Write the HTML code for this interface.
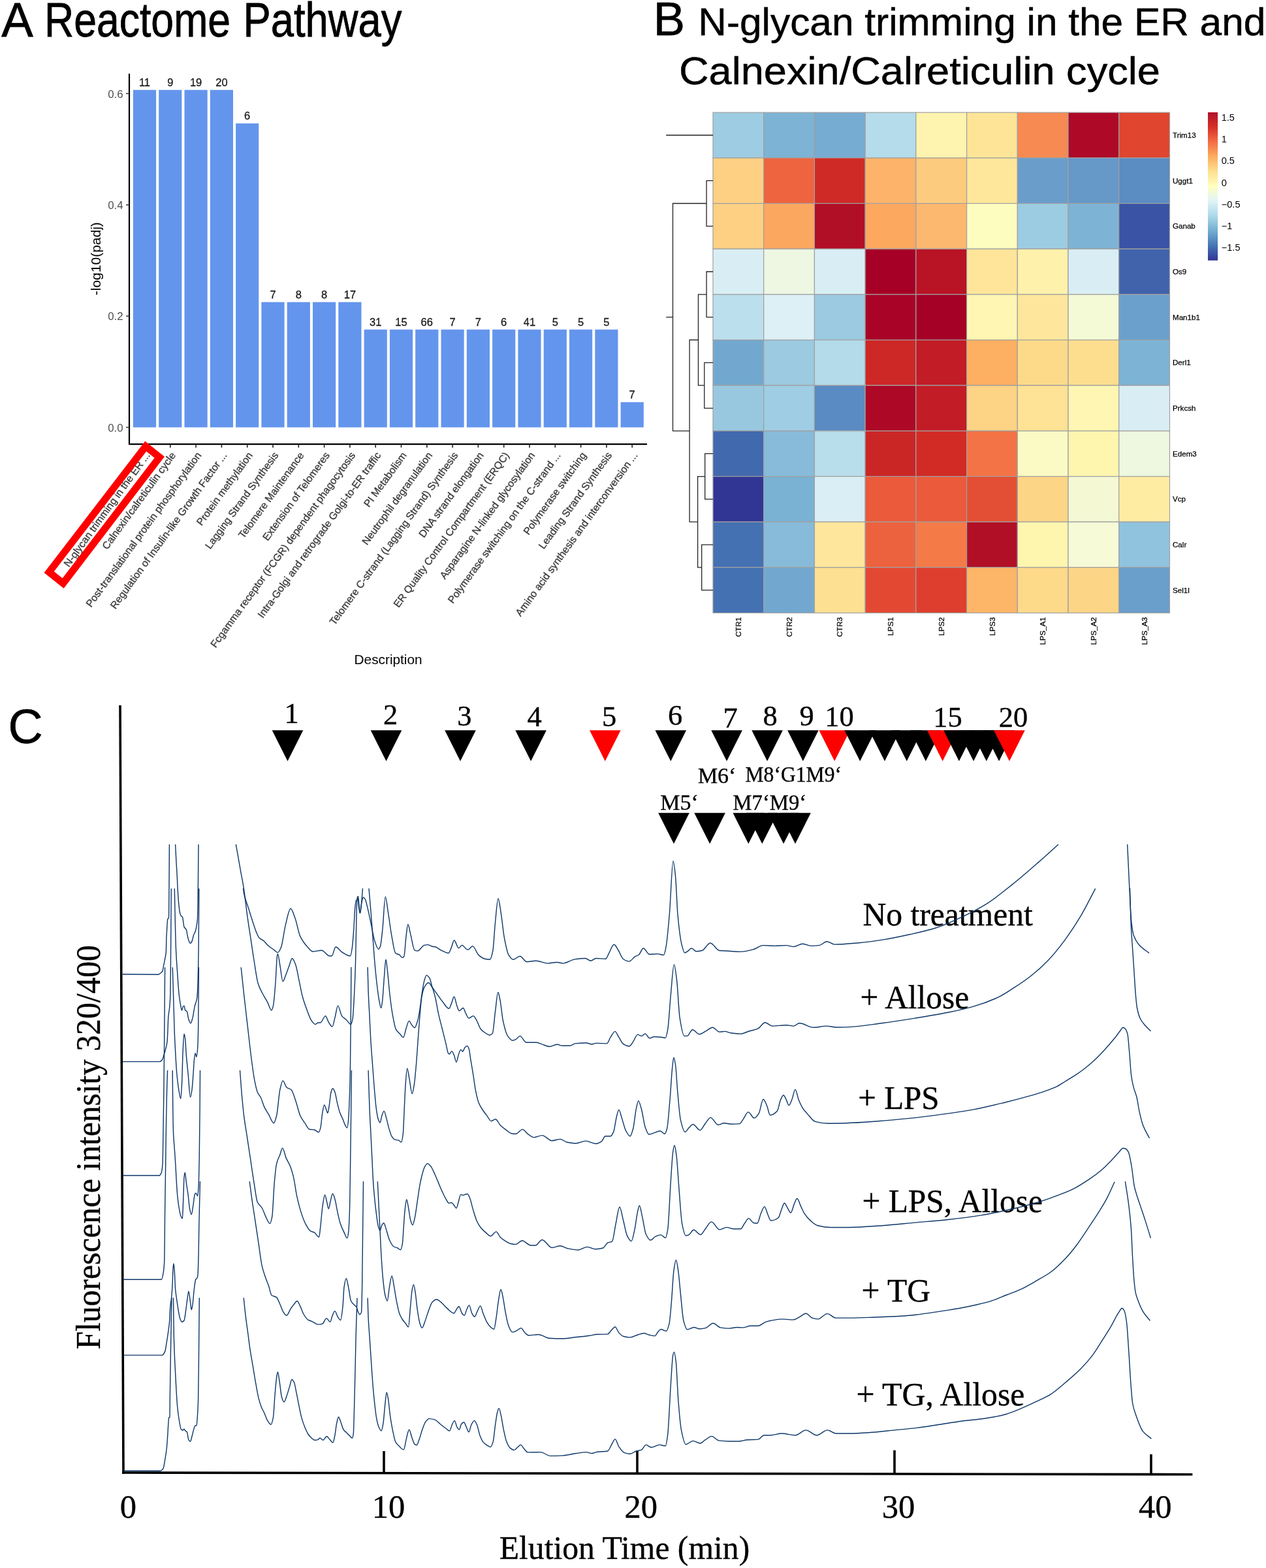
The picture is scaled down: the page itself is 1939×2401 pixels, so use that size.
<!DOCTYPE html>
<html><head><meta charset="utf-8"><title>Figure</title>
<style>
html,body{margin:0;padding:0;background:#fff;}
body{width:1939px;height:2401px;overflow:hidden;}
svg{display:block;}
.s{font-family:"Liberation Sans", Arial, Helvetica, sans-serif;}
.t{font-family:"Liberation Serif", "Times New Roman", serif;}
</style></head><body>
<svg width="1939" height="2401" viewBox="0 0 1939 2401">
<rect x="0" y="0" width="1939" height="2401" fill="#fff"/>

<g class="s">
<g stroke="#000" stroke-width="0.8" font-size="75"><text x="2.2" y="56" textLength="48.5" lengthAdjust="spacingAndGlyphs">A</text> <text x="68" y="56" textLength="285" lengthAdjust="spacingAndGlyphs">Reactome</text> <text x="372.5" y="56" textLength="243" lengthAdjust="spacingAndGlyphs">Pathway</text></g>
<rect x="203.9" y="137.7" width="35.2" height="516.7" fill="#6495ED"/>
<text x="221.5" y="132.1" font-size="16.5" text-anchor="middle" fill="#1a1a1a" stroke="#1a1a1a" stroke-width="0.3">11</text>
<rect x="243.2" y="137.7" width="35.2" height="516.7" fill="#6495ED"/>
<text x="260.8" y="132.1" font-size="16.5" text-anchor="middle" fill="#1a1a1a" stroke="#1a1a1a" stroke-width="0.3">9</text>
<rect x="282.5" y="137.7" width="35.2" height="516.7" fill="#6495ED"/>
<text x="300.1" y="132.1" font-size="16.5" text-anchor="middle" fill="#1a1a1a" stroke="#1a1a1a" stroke-width="0.3">19</text>
<rect x="321.8" y="137.7" width="35.2" height="516.7" fill="#6495ED"/>
<text x="339.4" y="132.1" font-size="16.5" text-anchor="middle" fill="#1a1a1a" stroke="#1a1a1a" stroke-width="0.3">20</text>
<rect x="361.1" y="189.0" width="35.2" height="465.4" fill="#6495ED"/>
<text x="378.7" y="183.4" font-size="16.5" text-anchor="middle" fill="#1a1a1a" stroke="#1a1a1a" stroke-width="0.3">6</text>
<rect x="400.4" y="462.6" width="35.2" height="191.8" fill="#6495ED"/>
<text x="418.0" y="457.0" font-size="16.5" text-anchor="middle" fill="#1a1a1a" stroke="#1a1a1a" stroke-width="0.3">7</text>
<rect x="439.7" y="462.6" width="35.2" height="191.8" fill="#6495ED"/>
<text x="457.3" y="457.0" font-size="16.5" text-anchor="middle" fill="#1a1a1a" stroke="#1a1a1a" stroke-width="0.3">8</text>
<rect x="479.0" y="462.6" width="35.2" height="191.8" fill="#6495ED"/>
<text x="496.6" y="457.0" font-size="16.5" text-anchor="middle" fill="#1a1a1a" stroke="#1a1a1a" stroke-width="0.3">8</text>
<rect x="518.3" y="462.6" width="35.2" height="191.8" fill="#6495ED"/>
<text x="535.9" y="457.0" font-size="16.5" text-anchor="middle" fill="#1a1a1a" stroke="#1a1a1a" stroke-width="0.3">17</text>
<rect x="557.6" y="504.6" width="35.2" height="149.8" fill="#6495ED"/>
<text x="575.2" y="499.0" font-size="16.5" text-anchor="middle" fill="#1a1a1a" stroke="#1a1a1a" stroke-width="0.3">31</text>
<rect x="596.9" y="504.6" width="35.2" height="149.8" fill="#6495ED"/>
<text x="614.5" y="499.0" font-size="16.5" text-anchor="middle" fill="#1a1a1a" stroke="#1a1a1a" stroke-width="0.3">15</text>
<rect x="636.2" y="504.6" width="35.2" height="149.8" fill="#6495ED"/>
<text x="653.8" y="499.0" font-size="16.5" text-anchor="middle" fill="#1a1a1a" stroke="#1a1a1a" stroke-width="0.3">66</text>
<rect x="675.5" y="504.6" width="35.2" height="149.8" fill="#6495ED"/>
<text x="693.1" y="499.0" font-size="16.5" text-anchor="middle" fill="#1a1a1a" stroke="#1a1a1a" stroke-width="0.3">7</text>
<rect x="714.8" y="504.6" width="35.2" height="149.8" fill="#6495ED"/>
<text x="732.4" y="499.0" font-size="16.5" text-anchor="middle" fill="#1a1a1a" stroke="#1a1a1a" stroke-width="0.3">7</text>
<rect x="754.1" y="504.6" width="35.2" height="149.8" fill="#6495ED"/>
<text x="771.7" y="499.0" font-size="16.5" text-anchor="middle" fill="#1a1a1a" stroke="#1a1a1a" stroke-width="0.3">6</text>
<rect x="793.4" y="504.6" width="35.2" height="149.8" fill="#6495ED"/>
<text x="811.0" y="499.0" font-size="16.5" text-anchor="middle" fill="#1a1a1a" stroke="#1a1a1a" stroke-width="0.3">41</text>
<rect x="832.7" y="504.6" width="35.2" height="149.8" fill="#6495ED"/>
<text x="850.3" y="499.0" font-size="16.5" text-anchor="middle" fill="#1a1a1a" stroke="#1a1a1a" stroke-width="0.3">5</text>
<rect x="872.0" y="504.6" width="35.2" height="149.8" fill="#6495ED"/>
<text x="889.6" y="499.0" font-size="16.5" text-anchor="middle" fill="#1a1a1a" stroke="#1a1a1a" stroke-width="0.3">5</text>
<rect x="911.3" y="504.6" width="35.2" height="149.8" fill="#6495ED"/>
<text x="928.9" y="499.0" font-size="16.5" text-anchor="middle" fill="#1a1a1a" stroke="#1a1a1a" stroke-width="0.3">5</text>
<rect x="950.6" y="615.8" width="35.2" height="38.6" fill="#6495ED"/>
<text x="968.2" y="610.2" font-size="16.5" text-anchor="middle" fill="#1a1a1a" stroke="#1a1a1a" stroke-width="0.3">7</text>
<path d="M198 112.7 V680.2 H991" fill="none" stroke="#000" stroke-width="2.2"/>
<line x1="193" y1="654.4" x2="198" y2="654.4" stroke="#333" stroke-width="1.5"/>
<text x="188.6" y="660.8" font-size="16.8" text-anchor="end" fill="#4D4D4D">0.0</text>
<line x1="193" y1="484.0" x2="198" y2="484.0" stroke="#333" stroke-width="1.5"/>
<text x="188.6" y="490.4" font-size="16.8" text-anchor="end" fill="#4D4D4D">0.2</text>
<line x1="193" y1="313.8" x2="198" y2="313.8" stroke="#333" stroke-width="1.5"/>
<text x="188.6" y="320.2" font-size="16.8" text-anchor="end" fill="#4D4D4D">0.4</text>
<line x1="193" y1="143.3" x2="198" y2="143.3" stroke="#333" stroke-width="1.5"/>
<text x="188.6" y="149.7" font-size="16.8" text-anchor="end" fill="#4D4D4D">0.6</text>
<line x1="221.5" y1="680" x2="221.5" y2="685.4" stroke="#222" stroke-width="1.6"/>
<text transform="translate(230.5,697.2) rotate(-54)" font-size="15.7" text-anchor="end" fill="#3d3d3d" stroke="#3d3d3d" stroke-width="0.35">N-glycan trimming in the ER ...</text>
<line x1="260.8" y1="680" x2="260.8" y2="685.4" stroke="#222" stroke-width="1.6"/>
<text transform="translate(269.8,697.2) rotate(-54)" font-size="15.7" text-anchor="end" fill="#3d3d3d" stroke="#3d3d3d" stroke-width="0.35">Calnexin/calreticulin cycle</text>
<line x1="300.1" y1="680" x2="300.1" y2="685.4" stroke="#222" stroke-width="1.6"/>
<text transform="translate(309.1,697.2) rotate(-54)" font-size="15.7" text-anchor="end" fill="#3d3d3d" stroke="#3d3d3d" stroke-width="0.35">Post-translational protein phosphorylation</text>
<line x1="339.4" y1="680" x2="339.4" y2="685.4" stroke="#222" stroke-width="1.6"/>
<text transform="translate(348.4,697.2) rotate(-54)" font-size="15.7" text-anchor="end" fill="#3d3d3d" stroke="#3d3d3d" stroke-width="0.35">Regulation of Insulin-like Growth Factor ...</text>
<line x1="378.7" y1="680" x2="378.7" y2="685.4" stroke="#222" stroke-width="1.6"/>
<text transform="translate(387.7,697.2) rotate(-54)" font-size="15.7" text-anchor="end" fill="#3d3d3d" stroke="#3d3d3d" stroke-width="0.35">Protein methylation</text>
<line x1="418.0" y1="680" x2="418.0" y2="685.4" stroke="#222" stroke-width="1.6"/>
<text transform="translate(427.0,697.2) rotate(-54)" font-size="15.7" text-anchor="end" fill="#3d3d3d" stroke="#3d3d3d" stroke-width="0.35">Lagging Strand Synthesis</text>
<line x1="457.3" y1="680" x2="457.3" y2="685.4" stroke="#222" stroke-width="1.6"/>
<text transform="translate(466.3,697.2) rotate(-54)" font-size="15.7" text-anchor="end" fill="#3d3d3d" stroke="#3d3d3d" stroke-width="0.35">Telomere Maintenance</text>
<line x1="496.6" y1="680" x2="496.6" y2="685.4" stroke="#222" stroke-width="1.6"/>
<text transform="translate(505.6,697.2) rotate(-54)" font-size="15.7" text-anchor="end" fill="#3d3d3d" stroke="#3d3d3d" stroke-width="0.35">Extension of Telomeres</text>
<line x1="535.9" y1="680" x2="535.9" y2="685.4" stroke="#222" stroke-width="1.6"/>
<text transform="translate(544.9,697.2) rotate(-54)" font-size="15.7" text-anchor="end" fill="#3d3d3d" stroke="#3d3d3d" stroke-width="0.35">Fcgamma receptor (FCGR) dependent phagocytosis</text>
<line x1="575.2" y1="680" x2="575.2" y2="685.4" stroke="#222" stroke-width="1.6"/>
<text transform="translate(584.2,697.2) rotate(-54)" font-size="15.7" text-anchor="end" fill="#3d3d3d" stroke="#3d3d3d" stroke-width="0.35">Intra-Golgi and retrograde Golgi-to-ER traffic</text>
<line x1="614.5" y1="680" x2="614.5" y2="685.4" stroke="#222" stroke-width="1.6"/>
<text transform="translate(623.5,697.2) rotate(-54)" font-size="15.7" text-anchor="end" fill="#3d3d3d" stroke="#3d3d3d" stroke-width="0.35">PI Metabolism</text>
<line x1="653.8" y1="680" x2="653.8" y2="685.4" stroke="#222" stroke-width="1.6"/>
<text transform="translate(662.8,697.2) rotate(-54)" font-size="15.7" text-anchor="end" fill="#3d3d3d" stroke="#3d3d3d" stroke-width="0.35">Neutrophil degranulation</text>
<line x1="693.1" y1="680" x2="693.1" y2="685.4" stroke="#222" stroke-width="1.6"/>
<text transform="translate(702.1,697.2) rotate(-54)" font-size="15.7" text-anchor="end" fill="#3d3d3d" stroke="#3d3d3d" stroke-width="0.35">Telomere C-strand (Lagging Strand) Synthesis</text>
<line x1="732.4" y1="680" x2="732.4" y2="685.4" stroke="#222" stroke-width="1.6"/>
<text transform="translate(741.4,697.2) rotate(-54)" font-size="15.7" text-anchor="end" fill="#3d3d3d" stroke="#3d3d3d" stroke-width="0.35">DNA strand elongation</text>
<line x1="771.7" y1="680" x2="771.7" y2="685.4" stroke="#222" stroke-width="1.6"/>
<text transform="translate(780.7,697.2) rotate(-54)" font-size="15.7" text-anchor="end" fill="#3d3d3d" stroke="#3d3d3d" stroke-width="0.35">ER Quality Control Compartment (ERQC)</text>
<line x1="811.0" y1="680" x2="811.0" y2="685.4" stroke="#222" stroke-width="1.6"/>
<text transform="translate(820.0,697.2) rotate(-54)" font-size="15.7" text-anchor="end" fill="#3d3d3d" stroke="#3d3d3d" stroke-width="0.35">Asparagine N-linked glycosylation</text>
<line x1="850.3" y1="680" x2="850.3" y2="685.4" stroke="#222" stroke-width="1.6"/>
<text transform="translate(859.3,697.2) rotate(-54)" font-size="15.7" text-anchor="end" fill="#3d3d3d" stroke="#3d3d3d" stroke-width="0.35">Polymerase switching on the C-strand ...</text>
<line x1="889.6" y1="680" x2="889.6" y2="685.4" stroke="#222" stroke-width="1.6"/>
<text transform="translate(898.6,697.2) rotate(-54)" font-size="15.7" text-anchor="end" fill="#3d3d3d" stroke="#3d3d3d" stroke-width="0.35">Polymerase switching</text>
<line x1="928.9" y1="680" x2="928.9" y2="685.4" stroke="#222" stroke-width="1.6"/>
<text transform="translate(937.9,697.2) rotate(-54)" font-size="15.7" text-anchor="end" fill="#3d3d3d" stroke="#3d3d3d" stroke-width="0.35">Leading Strand Synthesis</text>
<line x1="968.2" y1="680" x2="968.2" y2="685.4" stroke="#222" stroke-width="1.6"/>
<text transform="translate(977.2,697.2) rotate(-54)" font-size="15.7" text-anchor="end" fill="#3d3d3d" stroke="#3d3d3d" stroke-width="0.35">Amino acid synthesis and interconversion ...</text>
<text transform="translate(154.2,396.2) rotate(-90)" font-size="21" text-anchor="middle" fill="#000">-log10(padj)</text>
<text x="542.6" y="1017.3" font-size="20.8" fill="#000">Description</text>
<polygon points="223.2,683.4 244.3,700.1 96.7,893.2 75.2,876" fill="none" stroke="#FF0000" stroke-width="11" stroke-linejoin="miter"/>
</g>
<g class="s">
<text x="1000.8" y="54" font-size="72.5" stroke="#000" stroke-width="0.6">B</text>
<text x="1069.3" y="53.8" font-size="60" textLength="869" lengthAdjust="spacingAndGlyphs" stroke="#000" stroke-width="0.5">N-glycan trimming in the ER and</text>
<text x="1040" y="128.5" font-size="60" textLength="737" lengthAdjust="spacingAndGlyphs" stroke="#000" stroke-width="0.5">Calnexin/Calreticulin cycle</text>
<rect x="1092.00" y="172.20" width="77.72" height="69.67" fill="#9DCCE3" stroke="#A0A0A0" stroke-width="1.2"/>
<rect x="1169.72" y="172.20" width="77.72" height="69.67" fill="#7DB3D5" stroke="#A0A0A0" stroke-width="1.2"/>
<rect x="1247.44" y="172.20" width="77.72" height="69.67" fill="#76ACD1" stroke="#A0A0A0" stroke-width="1.2"/>
<rect x="1325.16" y="172.20" width="77.72" height="69.67" fill="#B4DCEA" stroke="#A0A0A0" stroke-width="1.2"/>
<rect x="1402.88" y="172.20" width="77.72" height="69.67" fill="#FEF3AF" stroke="#A0A0A0" stroke-width="1.2"/>
<rect x="1480.60" y="172.20" width="77.72" height="69.67" fill="#FEE497" stroke="#A0A0A0" stroke-width="1.2"/>
<rect x="1558.32" y="172.20" width="77.72" height="69.67" fill="#F68A52" stroke="#A0A0A0" stroke-width="1.2"/>
<rect x="1636.04" y="172.20" width="77.72" height="69.67" fill="#AE0A28" stroke="#A0A0A0" stroke-width="1.2"/>
<rect x="1713.76" y="172.20" width="77.72" height="69.67" fill="#E04530" stroke="#A0A0A0" stroke-width="1.2"/>
<rect x="1092.00" y="241.87" width="77.72" height="69.67" fill="#FDD084" stroke="#A0A0A0" stroke-width="1.2"/>
<rect x="1169.72" y="241.87" width="77.72" height="69.67" fill="#EE643F" stroke="#A0A0A0" stroke-width="1.2"/>
<rect x="1247.44" y="241.87" width="77.72" height="69.67" fill="#CF2A26" stroke="#A0A0A0" stroke-width="1.2"/>
<rect x="1325.16" y="241.87" width="77.72" height="69.67" fill="#FDB46A" stroke="#A0A0A0" stroke-width="1.2"/>
<rect x="1402.88" y="241.87" width="77.72" height="69.67" fill="#FDCB7E" stroke="#A0A0A0" stroke-width="1.2"/>
<rect x="1480.60" y="241.87" width="77.72" height="69.67" fill="#FEE79B" stroke="#A0A0A0" stroke-width="1.2"/>
<rect x="1558.32" y="241.87" width="77.72" height="69.67" fill="#6A9DCA" stroke="#A0A0A0" stroke-width="1.2"/>
<rect x="1636.04" y="241.87" width="77.72" height="69.67" fill="#6698C8" stroke="#A0A0A0" stroke-width="1.2"/>
<rect x="1713.76" y="241.87" width="77.72" height="69.67" fill="#5B8CC2" stroke="#A0A0A0" stroke-width="1.2"/>
<rect x="1092.00" y="311.54" width="77.72" height="69.67" fill="#FDD084" stroke="#A0A0A0" stroke-width="1.2"/>
<rect x="1169.72" y="311.54" width="77.72" height="69.67" fill="#FCA75F" stroke="#A0A0A0" stroke-width="1.2"/>
<rect x="1247.44" y="311.54" width="77.72" height="69.67" fill="#B10F26" stroke="#A0A0A0" stroke-width="1.2"/>
<rect x="1325.16" y="311.54" width="77.72" height="69.67" fill="#FCA85F" stroke="#A0A0A0" stroke-width="1.2"/>
<rect x="1402.88" y="311.54" width="77.72" height="69.67" fill="#FDB870" stroke="#A0A0A0" stroke-width="1.2"/>
<rect x="1480.60" y="311.54" width="77.72" height="69.67" fill="#FEFDC0" stroke="#A0A0A0" stroke-width="1.2"/>
<rect x="1558.32" y="311.54" width="77.72" height="69.67" fill="#9CCCE2" stroke="#A0A0A0" stroke-width="1.2"/>
<rect x="1636.04" y="311.54" width="77.72" height="69.67" fill="#7DB3D5" stroke="#A0A0A0" stroke-width="1.2"/>
<rect x="1713.76" y="311.54" width="77.72" height="69.67" fill="#3B53A4" stroke="#A0A0A0" stroke-width="1.2"/>
<rect x="1092.00" y="381.21" width="77.72" height="69.67" fill="#D8EEF4" stroke="#A0A0A0" stroke-width="1.2"/>
<rect x="1169.72" y="381.21" width="77.72" height="69.67" fill="#EDF7E2" stroke="#A0A0A0" stroke-width="1.2"/>
<rect x="1247.44" y="381.21" width="77.72" height="69.67" fill="#D8EEF4" stroke="#A0A0A0" stroke-width="1.2"/>
<rect x="1325.16" y="381.21" width="77.72" height="69.67" fill="#A70026" stroke="#A0A0A0" stroke-width="1.2"/>
<rect x="1402.88" y="381.21" width="77.72" height="69.67" fill="#B81425" stroke="#A0A0A0" stroke-width="1.2"/>
<rect x="1480.60" y="381.21" width="77.72" height="69.67" fill="#FEE599" stroke="#A0A0A0" stroke-width="1.2"/>
<rect x="1558.32" y="381.21" width="77.72" height="69.67" fill="#FEF1AB" stroke="#A0A0A0" stroke-width="1.2"/>
<rect x="1636.04" y="381.21" width="77.72" height="69.67" fill="#D8EEF4" stroke="#A0A0A0" stroke-width="1.2"/>
<rect x="1713.76" y="381.21" width="77.72" height="69.67" fill="#4163AC" stroke="#A0A0A0" stroke-width="1.2"/>
<rect x="1092.00" y="450.88" width="77.72" height="69.67" fill="#BCDFED" stroke="#A0A0A0" stroke-width="1.2"/>
<rect x="1169.72" y="450.88" width="77.72" height="69.67" fill="#DDF0F6" stroke="#A0A0A0" stroke-width="1.2"/>
<rect x="1247.44" y="450.88" width="77.72" height="69.67" fill="#9BCAE1" stroke="#A0A0A0" stroke-width="1.2"/>
<rect x="1325.16" y="450.88" width="77.72" height="69.67" fill="#A90427" stroke="#A0A0A0" stroke-width="1.2"/>
<rect x="1402.88" y="450.88" width="77.72" height="69.67" fill="#A50026" stroke="#A0A0A0" stroke-width="1.2"/>
<rect x="1480.60" y="450.88" width="77.72" height="69.67" fill="#FEF6B2" stroke="#A0A0A0" stroke-width="1.2"/>
<rect x="1558.32" y="450.88" width="77.72" height="69.67" fill="#FEE79C" stroke="#A0A0A0" stroke-width="1.2"/>
<rect x="1636.04" y="450.88" width="77.72" height="69.67" fill="#F4F9D6" stroke="#A0A0A0" stroke-width="1.2"/>
<rect x="1713.76" y="450.88" width="77.72" height="69.67" fill="#6CA0CC" stroke="#A0A0A0" stroke-width="1.2"/>
<rect x="1092.00" y="520.55" width="77.72" height="69.67" fill="#72A8CF" stroke="#A0A0A0" stroke-width="1.2"/>
<rect x="1169.72" y="520.55" width="77.72" height="69.67" fill="#9BCAE1" stroke="#A0A0A0" stroke-width="1.2"/>
<rect x="1247.44" y="520.55" width="77.72" height="69.67" fill="#B3DBEA" stroke="#A0A0A0" stroke-width="1.2"/>
<rect x="1325.16" y="520.55" width="77.72" height="69.67" fill="#CD2726" stroke="#A0A0A0" stroke-width="1.2"/>
<rect x="1402.88" y="520.55" width="77.72" height="69.67" fill="#C21D26" stroke="#A0A0A0" stroke-width="1.2"/>
<rect x="1480.60" y="520.55" width="77.72" height="69.67" fill="#FDAF62" stroke="#A0A0A0" stroke-width="1.2"/>
<rect x="1558.32" y="520.55" width="77.72" height="69.67" fill="#FDDA8A" stroke="#A0A0A0" stroke-width="1.2"/>
<rect x="1636.04" y="520.55" width="77.72" height="69.67" fill="#FDDE8F" stroke="#A0A0A0" stroke-width="1.2"/>
<rect x="1713.76" y="520.55" width="77.72" height="69.67" fill="#7DB3D5" stroke="#A0A0A0" stroke-width="1.2"/>
<rect x="1092.00" y="590.22" width="77.72" height="69.67" fill="#98C8E0" stroke="#A0A0A0" stroke-width="1.2"/>
<rect x="1169.72" y="590.22" width="77.72" height="69.67" fill="#9FCDE3" stroke="#A0A0A0" stroke-width="1.2"/>
<rect x="1247.44" y="590.22" width="77.72" height="69.67" fill="#5A8BC2" stroke="#A0A0A0" stroke-width="1.2"/>
<rect x="1325.16" y="590.22" width="77.72" height="69.67" fill="#AD0826" stroke="#A0A0A0" stroke-width="1.2"/>
<rect x="1402.88" y="590.22" width="77.72" height="69.67" fill="#C21D26" stroke="#A0A0A0" stroke-width="1.2"/>
<rect x="1480.60" y="590.22" width="77.72" height="69.67" fill="#FDD386" stroke="#A0A0A0" stroke-width="1.2"/>
<rect x="1558.32" y="590.22" width="77.72" height="69.67" fill="#FEE295" stroke="#A0A0A0" stroke-width="1.2"/>
<rect x="1636.04" y="590.22" width="77.72" height="69.67" fill="#FEF6B2" stroke="#A0A0A0" stroke-width="1.2"/>
<rect x="1713.76" y="590.22" width="77.72" height="69.67" fill="#D9EEF4" stroke="#A0A0A0" stroke-width="1.2"/>
<rect x="1092.00" y="659.89" width="77.72" height="69.67" fill="#4169AE" stroke="#A0A0A0" stroke-width="1.2"/>
<rect x="1169.72" y="659.89" width="77.72" height="69.67" fill="#88BBD9" stroke="#A0A0A0" stroke-width="1.2"/>
<rect x="1247.44" y="659.89" width="77.72" height="69.67" fill="#B8DEEB" stroke="#A0A0A0" stroke-width="1.2"/>
<rect x="1325.16" y="659.89" width="77.72" height="69.67" fill="#CB2626" stroke="#A0A0A0" stroke-width="1.2"/>
<rect x="1402.88" y="659.89" width="77.72" height="69.67" fill="#D22B26" stroke="#A0A0A0" stroke-width="1.2"/>
<rect x="1480.60" y="659.89" width="77.72" height="69.67" fill="#F47346" stroke="#A0A0A0" stroke-width="1.2"/>
<rect x="1558.32" y="659.89" width="77.72" height="69.67" fill="#FBFAC4" stroke="#A0A0A0" stroke-width="1.2"/>
<rect x="1636.04" y="659.89" width="77.72" height="69.67" fill="#FEF5AF" stroke="#A0A0A0" stroke-width="1.2"/>
<rect x="1713.76" y="659.89" width="77.72" height="69.67" fill="#EEF7DF" stroke="#A0A0A0" stroke-width="1.2"/>
<rect x="1092.00" y="729.56" width="77.72" height="69.67" fill="#313695" stroke="#A0A0A0" stroke-width="1.2"/>
<rect x="1169.72" y="729.56" width="77.72" height="69.67" fill="#7AB2D4" stroke="#A0A0A0" stroke-width="1.2"/>
<rect x="1247.44" y="729.56" width="77.72" height="69.67" fill="#DAEFF5" stroke="#A0A0A0" stroke-width="1.2"/>
<rect x="1325.16" y="729.56" width="77.72" height="69.67" fill="#EA5A3B" stroke="#A0A0A0" stroke-width="1.2"/>
<rect x="1402.88" y="729.56" width="77.72" height="69.67" fill="#EA5A3B" stroke="#A0A0A0" stroke-width="1.2"/>
<rect x="1480.60" y="729.56" width="77.72" height="69.67" fill="#E34F35" stroke="#A0A0A0" stroke-width="1.2"/>
<rect x="1558.32" y="729.56" width="77.72" height="69.67" fill="#FDD587" stroke="#A0A0A0" stroke-width="1.2"/>
<rect x="1636.04" y="729.56" width="77.72" height="69.67" fill="#F4F9D4" stroke="#A0A0A0" stroke-width="1.2"/>
<rect x="1713.76" y="729.56" width="77.72" height="69.67" fill="#FEECA3" stroke="#A0A0A0" stroke-width="1.2"/>
<rect x="1092.00" y="799.23" width="77.72" height="69.67" fill="#4471B2" stroke="#A0A0A0" stroke-width="1.2"/>
<rect x="1169.72" y="799.23" width="77.72" height="69.67" fill="#88BBD9" stroke="#A0A0A0" stroke-width="1.2"/>
<rect x="1247.44" y="799.23" width="77.72" height="69.67" fill="#FEE79C" stroke="#A0A0A0" stroke-width="1.2"/>
<rect x="1325.16" y="799.23" width="77.72" height="69.67" fill="#ED623E" stroke="#A0A0A0" stroke-width="1.2"/>
<rect x="1402.88" y="799.23" width="77.72" height="69.67" fill="#F47A48" stroke="#A0A0A0" stroke-width="1.2"/>
<rect x="1480.60" y="799.23" width="77.72" height="69.67" fill="#B10F26" stroke="#A0A0A0" stroke-width="1.2"/>
<rect x="1558.32" y="799.23" width="77.72" height="69.67" fill="#FEF5AF" stroke="#A0A0A0" stroke-width="1.2"/>
<rect x="1636.04" y="799.23" width="77.72" height="69.67" fill="#F6FAD6" stroke="#A0A0A0" stroke-width="1.2"/>
<rect x="1713.76" y="799.23" width="77.72" height="69.67" fill="#90C3DE" stroke="#A0A0A0" stroke-width="1.2"/>
<rect x="1092.00" y="868.90" width="77.72" height="69.67" fill="#4471B2" stroke="#A0A0A0" stroke-width="1.2"/>
<rect x="1169.72" y="868.90" width="77.72" height="69.67" fill="#72A8CF" stroke="#A0A0A0" stroke-width="1.2"/>
<rect x="1247.44" y="868.90" width="77.72" height="69.67" fill="#FDE091" stroke="#A0A0A0" stroke-width="1.2"/>
<rect x="1325.16" y="868.90" width="77.72" height="69.67" fill="#E34932" stroke="#A0A0A0" stroke-width="1.2"/>
<rect x="1402.88" y="868.90" width="77.72" height="69.67" fill="#DE3E2E" stroke="#A0A0A0" stroke-width="1.2"/>
<rect x="1480.60" y="868.90" width="77.72" height="69.67" fill="#FDB567" stroke="#A0A0A0" stroke-width="1.2"/>
<rect x="1558.32" y="868.90" width="77.72" height="69.67" fill="#FDD98A" stroke="#A0A0A0" stroke-width="1.2"/>
<rect x="1636.04" y="868.90" width="77.72" height="69.67" fill="#FDD587" stroke="#A0A0A0" stroke-width="1.2"/>
<rect x="1713.76" y="868.90" width="77.72" height="69.67" fill="#6A9ECB" stroke="#A0A0A0" stroke-width="1.2"/>
<text x="1796" y="211.0" font-size="11.6" fill="#000" stroke="#000" stroke-width="0.25">Trim13</text>
<text x="1796" y="280.7" font-size="11.6" fill="#000" stroke="#000" stroke-width="0.25">Uggt1</text>
<text x="1796" y="350.4" font-size="11.6" fill="#000" stroke="#000" stroke-width="0.25">Ganab</text>
<text x="1796" y="420.0" font-size="11.6" fill="#000" stroke="#000" stroke-width="0.25">Os9</text>
<text x="1796" y="489.7" font-size="11.6" fill="#000" stroke="#000" stroke-width="0.25">Man1b1</text>
<text x="1796" y="559.4" font-size="11.6" fill="#000" stroke="#000" stroke-width="0.25">Derl1</text>
<text x="1796" y="629.1" font-size="11.6" fill="#000" stroke="#000" stroke-width="0.25">Prkcsh</text>
<text x="1796" y="698.7" font-size="11.6" fill="#000" stroke="#000" stroke-width="0.25">Edem3</text>
<text x="1796" y="768.4" font-size="11.6" fill="#000" stroke="#000" stroke-width="0.25">Vcp</text>
<text x="1796" y="838.1" font-size="11.6" fill="#000" stroke="#000" stroke-width="0.25">Calr</text>
<text x="1796" y="907.7" font-size="11.6" fill="#000" stroke="#000" stroke-width="0.25">Sel1l</text>
<text transform="translate(1134.9,945) rotate(-90)" font-size="11.6" text-anchor="end" fill="#000" stroke="#000" stroke-width="0.25">CTR1</text>
<text transform="translate(1212.6,945) rotate(-90)" font-size="11.6" text-anchor="end" fill="#000" stroke="#000" stroke-width="0.25">CTR2</text>
<text transform="translate(1290.3,945) rotate(-90)" font-size="11.6" text-anchor="end" fill="#000" stroke="#000" stroke-width="0.25">CTR3</text>
<text transform="translate(1368.0,945) rotate(-90)" font-size="11.6" text-anchor="end" fill="#000" stroke="#000" stroke-width="0.25">LPS1</text>
<text transform="translate(1445.7,945) rotate(-90)" font-size="11.6" text-anchor="end" fill="#000" stroke="#000" stroke-width="0.25">LPS2</text>
<text transform="translate(1523.5,945) rotate(-90)" font-size="11.6" text-anchor="end" fill="#000" stroke="#000" stroke-width="0.25">LPS3</text>
<text transform="translate(1601.2,945) rotate(-90)" font-size="11.6" text-anchor="end" fill="#000" stroke="#000" stroke-width="0.25">LPS_A1</text>
<text transform="translate(1678.9,945) rotate(-90)" font-size="11.6" text-anchor="end" fill="#000" stroke="#000" stroke-width="0.25">LPS_A2</text>
<text transform="translate(1756.6,945) rotate(-90)" font-size="11.6" text-anchor="end" fill="#000" stroke="#000" stroke-width="0.25">LPS_A3</text>
<path d="M1020.2 207.0L1092.0 207.0M1092.0 276.7H1082.1V346.4H1092.0M1092.0 416.0H1082.1V485.7H1092.0M1092.0 555.4H1078.8V625.1H1092.0M1082.1 450.9H1069.5V590.2H1078.8M1092.0 694.7H1079.7V764.4H1092.0M1092.0 834.1H1074.7V903.7H1092.0M1079.7 729.6H1068.6V868.9H1074.7M1069.5 520.5H1056.1V799.2H1068.6M1082.1 311.5H1030.5V659.9H1056.1M1020.2 485.7H1030.5" fill="none" stroke="#222" stroke-width="1.3"/>
<defs><linearGradient id="lg" x1="0" y1="1" x2="0" y2="0">
<stop offset="0" stop-color="#313695"/><stop offset="0.1" stop-color="#4575B4"/><stop offset="0.2" stop-color="#74ADD1"/>
<stop offset="0.3" stop-color="#ABD9E9"/><stop offset="0.4" stop-color="#E0F3F8"/><stop offset="0.5" stop-color="#FFFFBF"/>
<stop offset="0.6" stop-color="#FEE090"/><stop offset="0.7" stop-color="#FDAE61"/><stop offset="0.8" stop-color="#F46D43"/>
<stop offset="0.9" stop-color="#D73027"/><stop offset="1" stop-color="#B0122A"/></linearGradient></defs>
<rect x="1850" y="172" width="15.1" height="226.8" fill="url(#lg)"/>
<text x="1870.7" y="184.9" font-size="14.6" fill="#000">1.5</text>
<text x="1870.7" y="217.9" font-size="14.6" fill="#000">1</text>
<text x="1870.7" y="250.9" font-size="14.6" fill="#000">0.5</text>
<text x="1870.7" y="285.0" font-size="14.6" fill="#000">0</text>
<text x="1870.7" y="318.0" font-size="14.6" fill="#000">−0.5</text>
<text x="1870.7" y="351.0" font-size="14.6" fill="#000">−1</text>
<text x="1870.7" y="384.0" font-size="14.6" fill="#000">−1.5</text>
</g>
<g class="t" stroke="#000" stroke-width="0.35">
<text x="12.5" y="1138.3" font-size="73.5" class="s" font-family="Liberation Sans" stroke-width="0.7">C</text>
<path d="M184 1080 L189 2257" stroke="#000" stroke-width="3.6" fill="none"/>
<path d="M187 2255 L1826.4 2257.7" stroke="#000" stroke-width="3.6" fill="none"/>
<line x1="588" y1="2222" x2="588" y2="2257" stroke="#000" stroke-width="3.6"/>
<line x1="976" y1="2221.6" x2="976" y2="2257" stroke="#000" stroke-width="3.6"/>
<line x1="1370" y1="2220.7" x2="1370" y2="2257" stroke="#000" stroke-width="3.6"/>
<line x1="1763" y1="2226.9" x2="1763" y2="2257" stroke="#000" stroke-width="3.6"/>
<text x="196.4" y="2324" font-size="50.6" text-anchor="middle">0</text>
<text x="595" y="2324" font-size="50.6" text-anchor="middle">10</text>
<text x="981.8" y="2324" font-size="50.6" text-anchor="middle">20</text>
<text x="1376" y="2324" font-size="50.6" text-anchor="middle">30</text>
<text x="1769.3" y="2324" font-size="50.6" text-anchor="middle">40</text>
<text x="764.7" y="2386.6" font-size="50" textLength="383.5" lengthAdjust="spacingAndGlyphs">Elution Time (min)</text>
<text transform="translate(152.7,2066.3) rotate(-90)" font-size="53" textLength="619" lengthAdjust="spacingAndGlyphs">Fluorescence intensity 320/400</text>
<polygon points="416.7,1118.3 464.3,1118.3 440.5,1165.6" fill="#000" stroke="none"/>
<polygon points="567.7,1118.3 615.3,1118.3 591.5,1165.6" fill="#000" stroke="none"/>
<polygon points="681.2,1118.3 728.8,1118.3 705.0,1165.6" fill="#000" stroke="none"/>
<polygon points="789.3,1118.3 836.9,1118.3 813.1,1165.6" fill="#000" stroke="none"/>
<polygon points="903.0,1118.3 950.6,1118.3 926.8,1165.6" fill="#FF0000" stroke="none"/>
<polygon points="1003.5,1118.3 1051.1,1118.3 1027.3,1165.6" fill="#000" stroke="none"/>
<polygon points="1089.3,1118.3 1136.9,1118.3 1113.1,1165.6" fill="#000" stroke="none"/>
<polygon points="1151.3,1118.3 1198.9,1118.3 1175.1,1165.6" fill="#000" stroke="none"/>
<polygon points="1206.1,1118.3 1253.7,1118.3 1229.9,1165.6" fill="#000" stroke="none"/>
<polygon points="1254.4,1118.3 1302.0,1118.3 1278.2,1165.6" fill="#FF0000" stroke="none"/>
<polygon points="1293.4,1118.3 1341.0,1118.3 1317.2,1165.6" fill="#000" stroke="none"/>
<polygon points="1331.2,1118.3 1378.8,1118.3 1355.0,1165.6" fill="#000" stroke="none"/>
<polygon points="1365.0,1118.3 1412.6,1118.3 1388.8,1165.6" fill="#000" stroke="none"/>
<polygon points="1394.1,1118.3 1441.7,1118.3 1417.9,1165.6" fill="#000" stroke="none"/>
<polygon points="1419.9,1118.3 1467.5,1118.3 1443.7,1165.6" fill="#FF0000" stroke="none"/>
<polygon points="1445.1,1118.3 1492.7,1118.3 1468.9,1165.6" fill="#000" stroke="none"/>
<polygon points="1467.3,1118.3 1514.9,1118.3 1491.1,1165.6" fill="#000" stroke="none"/>
<polygon points="1487.0,1118.3 1534.6,1118.3 1510.8,1165.6" fill="#000" stroke="none"/>
<polygon points="1506.3,1118.3 1553.9,1118.3 1530.1,1165.6" fill="#000" stroke="none"/>
<polygon points="1522.2,1118.3 1569.8,1118.3 1546.0,1165.6" fill="#FF0000" stroke="none"/>
<polygon points="1008.2,1244.8 1055.8,1244.8 1032.0,1292.1" fill="#000" stroke="none"/>
<polygon points="1063.3,1244.8 1110.9,1244.8 1087.1,1292.1" fill="#000" stroke="none"/>
<polygon points="1122.5,1244.8 1170.1,1244.8 1146.3,1292.1" fill="#000" stroke="none"/>
<polygon points="1143.5,1244.8 1191.1,1244.8 1167.3,1292.1" fill="#000" stroke="none"/>
<polygon points="1176.3,1244.8 1223.9,1244.8 1200.1,1292.1" fill="#000" stroke="none"/>
<polygon points="1194.2,1244.8 1241.8,1244.8 1218.0,1292.1" fill="#000" stroke="none"/>
<text x="446.5" y="1106.7" font-size="44.5" text-anchor="middle">1</text>
<text x="598" y="1109.4" font-size="44.5" text-anchor="middle">2</text>
<text x="711.3" y="1111.2" font-size="44.5" text-anchor="middle">3</text>
<text x="818.5" y="1111.8" font-size="44.5" text-anchor="middle">4</text>
<text x="933" y="1111.8" font-size="44.5" text-anchor="middle">5</text>
<text x="1034" y="1110.4" font-size="44.5" text-anchor="middle">6</text>
<text x="1118.7" y="1113.5" font-size="44.5" text-anchor="middle">7</text>
<text x="1179.7" y="1110.8" font-size="44.5" text-anchor="middle">8</text>
<text x="1235.6" y="1110.8" font-size="44.5" text-anchor="middle">9</text>
<text x="1285.6" y="1112.3" font-size="44.5" text-anchor="middle">10</text>
<text x="1451.4" y="1112.5" font-size="44.5" text-anchor="middle">15</text>
<text x="1551.9" y="1112.5" font-size="44.5" text-anchor="middle">20</text>
<text x="1068.9" y="1199.3" font-size="34">M6‘</text>
<text x="1141.5" y="1197.4" font-size="34" textLength="147.5" lengthAdjust="spacingAndGlyphs">M8‘G1M9‘</text>
<text x="1011.2" y="1240.2" font-size="34">M5‘</text>
<text x="1122.4" y="1240" font-size="34" textLength="112.8" lengthAdjust="spacingAndGlyphs">M7‘M9‘</text>
<text x="1321.4" y="1417" font-size="50.5" textLength="260.4" lengthAdjust="spacingAndGlyphs">No treatment</text>
<text x="1317.6" y="1544" font-size="50.5" textLength="166.7" lengthAdjust="spacingAndGlyphs">+ Allose</text>
<text x="1314.3" y="1697.9" font-size="50.5" textLength="124.3" lengthAdjust="spacingAndGlyphs">+ LPS</text>
<text x="1320.4" y="1856.1" font-size="50.5" textLength="276.6" lengthAdjust="spacingAndGlyphs">+ LPS, Allose</text>
<text x="1319.5" y="1992.8" font-size="50.5" textLength="105.5" lengthAdjust="spacingAndGlyphs">+ TG</text>
<text x="1311.5" y="2152" font-size="50.5" textLength="257.9" lengthAdjust="spacingAndGlyphs">+ TG, Allose</text>
</g>
<g fill="none" stroke="#0c3668" stroke-width="1.4" stroke-linejoin="round" stroke-linecap="butt">
<path d="M188.00 1491.70C206.23 1491.87 224.47 1492.20 242.70 1492.20C243.47 1492.20 244.23 1491.37 245.00 1490.80C246.33 1489.81 247.67 1489.25 249.00 1486.80C249.57 1485.76 250.13 1481.06 250.70 1478.20C251.47 1474.33 252.23 1471.02 253.00 1466.60C253.47 1463.91 253.93 1463.63 254.40 1457.40C254.53 1455.62 254.67 1442.73 254.80 1439.00C255.07 1431.55 255.33 1428.41 255.60 1424.00C255.97 1417.93 256.33 1409.19 256.70 1407.90C257.33 1405.67 257.97 1407.05 258.60 1404.40C258.87 1403.28 259.13 1330.13 259.40 1293.00M268.60 1293.00C269.07 1302.10 269.53 1311.77 270.00 1320.30C270.40 1327.61 270.80 1333.27 271.20 1341.00C271.47 1346.16 271.73 1353.42 272.00 1358.30C272.50 1367.45 273.00 1375.94 273.50 1381.40C274.10 1387.95 274.70 1393.54 275.30 1396.40C275.87 1399.10 276.43 1401.25 277.00 1402.10C277.83 1403.35 278.67 1403.07 279.50 1404.40C280.33 1405.73 281.17 1417.54 282.00 1419.40C283.17 1422.01 284.33 1421.32 285.50 1424.00C286.00 1425.15 286.50 1429.88 287.00 1432.10C287.83 1435.81 288.67 1439.47 289.50 1441.30C290.17 1442.77 290.83 1444.50 291.50 1444.50C292.33 1444.50 293.17 1442.88 294.00 1441.30C294.83 1439.72 295.67 1434.48 296.50 1432.10C297.50 1429.25 298.50 1428.40 299.50 1425.20C300.00 1423.60 300.50 1421.10 301.00 1418.20C301.50 1415.30 302.00 1414.16 302.50 1406.70C302.67 1404.21 302.83 1392.91 303.00 1383.70C303.17 1374.49 303.33 1363.37 303.50 1349.10C303.67 1334.83 303.83 1311.70 304.00 1293.00M361.30 1293.00C362.27 1298.27 363.23 1303.40 364.20 1308.80C365.53 1316.25 366.87 1324.27 368.20 1331.80C369.93 1341.59 371.67 1349.73 373.40 1360.60C374.07 1364.78 374.73 1371.48 375.40 1374.50C376.87 1381.15 378.33 1383.67 379.80 1388.30C382.10 1395.55 384.40 1403.30 386.70 1410.20C389.00 1417.10 391.30 1424.76 393.60 1429.80C394.73 1432.28 395.87 1434.94 397.00 1436.10C399.33 1438.50 401.67 1438.76 404.00 1440.70C405.90 1442.28 407.80 1445.26 409.70 1447.00C412.77 1449.80 415.83 1451.74 418.90 1454.00C421.03 1455.57 423.17 1458.60 425.30 1458.60C427.00 1458.60 428.70 1454.74 430.40 1450.90C432.70 1445.70 435.00 1425.34 437.30 1416.30C439.90 1406.09 442.50 1391.30 445.10 1391.30C447.40 1391.30 449.70 1399.88 452.00 1406.00C454.57 1412.83 457.13 1428.18 459.70 1433.60C463.73 1442.12 467.77 1446.62 471.80 1450.90C474.13 1453.37 476.47 1457.00 478.80 1457.00C483.40 1457.00 488.00 1455.20 492.60 1455.20C496.63 1455.20 500.67 1463.80 504.70 1463.80C505.83 1463.80 506.97 1463.80 508.10 1463.80C510.13 1463.80 512.17 1450.00 514.20 1450.00C517.37 1450.00 520.53 1455.89 523.70 1457.80C528.00 1460.39 532.30 1463.80 536.60 1463.80C537.47 1463.80 538.33 1458.01 539.20 1452.60C540.07 1447.19 540.93 1435.20 541.80 1423.20C542.40 1414.89 543.00 1398.40 543.60 1392.10C544.17 1386.15 544.73 1379.76 545.30 1379.20C545.87 1378.64 546.43 1378.80 547.00 1378.30C547.40 1377.95 547.80 1375.70 548.20 1375.70C548.57 1375.70 548.93 1384.26 549.30 1387.00C549.97 1391.97 550.63 1398.20 551.30 1398.20C552.17 1398.20 553.03 1385.32 553.90 1381.80C554.77 1378.28 555.63 1374.00 556.50 1374.00C557.37 1374.00 558.23 1375.30 559.10 1376.60C560.53 1378.74 561.97 1386.30 563.40 1392.10C565.13 1399.11 566.87 1408.23 568.60 1416.30C570.33 1424.37 572.07 1435.33 573.80 1440.50C575.80 1446.47 577.80 1453.50 579.80 1453.50C580.67 1453.50 581.53 1451.47 582.40 1449.20C583.57 1446.14 584.73 1433.71 585.90 1423.20C587.33 1410.29 588.77 1373.10 590.20 1373.10C591.63 1373.10 593.07 1388.58 594.50 1397.30C596.23 1407.84 597.97 1422.52 599.70 1431.90C601.73 1442.91 603.77 1457.90 605.80 1459.50C607.80 1461.08 609.80 1460.86 611.80 1462.10C613.23 1462.99 614.67 1466.40 616.10 1466.40C616.97 1466.40 617.83 1465.72 618.70 1464.70C619.87 1463.33 621.03 1440.61 622.20 1431.90C623.07 1425.43 623.93 1415.50 624.80 1415.50C626.23 1415.50 627.67 1426.39 629.10 1431.90C631.10 1439.59 633.10 1454.46 635.10 1455.20C636.57 1455.74 638.03 1456.10 639.50 1456.10C642.93 1456.10 646.37 1448.23 649.80 1447.40C651.53 1446.98 653.27 1446.60 655.00 1446.60C657.30 1446.60 659.60 1448.71 661.90 1449.20C663.63 1449.57 665.37 1449.59 667.10 1450.00C669.97 1450.67 672.83 1453.85 675.70 1455.20C679.47 1456.98 683.23 1459.50 687.00 1459.50C688.43 1459.50 689.87 1454.14 691.30 1450.90C692.73 1447.66 694.17 1439.70 695.60 1439.70C697.90 1439.70 700.20 1451.80 702.50 1451.80C704.23 1451.80 705.97 1447.40 707.70 1447.40C710.00 1447.40 712.30 1452.33 714.60 1453.50C715.37 1453.89 716.13 1454.40 716.90 1454.40C719.20 1454.40 721.50 1448.60 723.80 1448.60C726.87 1448.60 729.93 1459.70 733.00 1462.40C736.10 1465.13 739.20 1467.51 742.30 1468.20C744.97 1468.79 747.63 1469.30 750.30 1469.30C751.83 1469.30 753.37 1463.05 754.90 1455.50C756.07 1449.76 757.23 1425.45 758.40 1414.00C759.93 1398.95 761.47 1376.00 763.00 1376.00C764.53 1376.00 766.07 1390.71 767.60 1400.20C769.13 1409.69 770.67 1426.63 772.20 1434.80C774.50 1447.06 776.80 1458.72 779.10 1462.40C781.40 1466.08 783.70 1469.30 786.00 1469.30C789.47 1469.30 792.93 1464.30 796.40 1464.30C799.87 1464.30 803.33 1472.80 806.80 1472.80C811.40 1472.80 816.00 1471.20 820.60 1471.20C826.73 1471.20 832.87 1475.10 839.00 1475.10C843.63 1475.10 848.27 1473.50 852.90 1473.50C855.97 1473.50 859.03 1475.10 862.10 1475.10C868.23 1475.10 874.37 1469.74 880.50 1468.90C885.87 1468.17 891.23 1467.50 896.60 1467.50C899.30 1467.50 902.00 1471.20 904.70 1471.20C907.40 1471.20 910.10 1467.50 912.80 1467.50C917.77 1467.50 922.73 1468.20 927.70 1468.20C929.27 1468.20 930.83 1462.80 932.40 1460.10C935.07 1455.50 937.73 1446.30 940.40 1446.30C942.70 1446.30 945.00 1451.94 947.30 1455.50C949.60 1459.06 951.90 1466.58 954.20 1468.20C957.30 1470.39 960.40 1472.10 963.50 1472.10C966.57 1472.10 969.63 1466.49 972.70 1464.70C974.60 1463.59 976.50 1463.34 978.40 1462.00C980.70 1460.38 983.00 1452.00 985.30 1452.00C988.40 1452.00 991.50 1461.30 994.60 1461.30C998.80 1461.30 1003.00 1460.60 1007.20 1460.60C1010.30 1460.60 1013.40 1462.40 1016.50 1462.40C1017.63 1462.40 1018.77 1456.34 1019.90 1450.90C1021.70 1442.26 1023.50 1420.59 1025.30 1400.20C1027.20 1378.67 1029.10 1318.40 1031.00 1318.40C1032.20 1318.40 1033.40 1331.00 1034.60 1342.60C1035.73 1353.55 1036.87 1387.91 1038.00 1400.20C1040.03 1422.25 1042.07 1438.25 1044.10 1446.30C1045.63 1452.37 1047.17 1459.00 1048.70 1459.00C1050.23 1459.00 1051.77 1457.64 1053.30 1456.70C1055.23 1455.52 1057.17 1452.00 1059.10 1452.00C1061.40 1452.00 1063.70 1456.70 1066.00 1456.70C1069.07 1456.70 1072.13 1456.17 1075.20 1455.50C1079.43 1454.57 1083.67 1444.00 1087.90 1444.00C1092.50 1444.00 1097.10 1455.01 1101.70 1455.50C1106.37 1456.00 1111.03 1456.02 1115.70 1456.30C1121.57 1456.65 1127.43 1457.40 1133.30 1457.40C1140.47 1457.40 1147.63 1455.39 1154.80 1453.50C1159.37 1452.30 1163.93 1447.60 1168.50 1447.60C1174.40 1447.60 1180.30 1448.40 1186.20 1448.40C1192.07 1448.40 1197.93 1447.60 1203.80 1447.60C1207.70 1447.60 1211.60 1449.60 1215.50 1449.60C1220.10 1449.60 1224.70 1445.30 1229.30 1445.30C1233.87 1445.30 1238.43 1448.40 1243.00 1448.40C1246.90 1448.40 1250.80 1448.07 1254.70 1447.60C1258.63 1447.13 1262.57 1441.80 1266.50 1441.80C1270.40 1441.80 1274.30 1446.10 1278.20 1446.10C1290.60 1446.10 1303.00 1444.77 1315.40 1443.70C1328.47 1442.58 1341.53 1440.66 1354.60 1438.60C1367.67 1436.54 1380.73 1433.70 1393.80 1430.80C1406.83 1427.91 1419.87 1425.09 1432.90 1421.00C1445.97 1416.90 1459.03 1410.71 1472.10 1404.60C1485.17 1398.49 1498.23 1391.93 1511.30 1383.80C1524.33 1375.69 1537.37 1364.80 1550.40 1354.40C1563.47 1343.98 1576.53 1332.50 1589.60 1321.10C1600.07 1311.97 1610.53 1302.37 1621.00 1293.00M1726.70 1293.00C1727.73 1314.77 1728.77 1338.14 1729.80 1358.30C1730.73 1376.51 1731.67 1400.61 1732.60 1409.30C1733.90 1421.41 1735.20 1429.03 1736.50 1432.80C1739.10 1440.33 1741.70 1443.47 1744.30 1446.50C1749.53 1452.61 1754.77 1455.10 1760.00 1459.40"/>
<path d="M188.00 1625.60C206.93 1625.60 225.87 1625.60 244.80 1625.60C245.97 1625.60 247.13 1624.41 248.30 1623.00C249.13 1621.99 249.97 1618.64 250.80 1616.10C251.97 1612.54 253.13 1608.90 254.30 1604.00C254.87 1601.62 255.43 1600.10 256.00 1595.40C256.30 1592.91 256.60 1585.93 256.90 1579.80C257.20 1573.67 257.50 1561.22 257.80 1557.40C258.47 1548.92 259.13 1549.24 259.80 1541.80C260.17 1537.71 260.53 1534.17 260.90 1522.80C261.13 1515.56 261.37 1480.17 261.60 1453.70C261.83 1427.23 262.07 1391.50 262.30 1360.40M267.30 1360.40C267.57 1374.20 267.83 1390.10 268.10 1401.80C268.57 1422.27 269.03 1442.79 269.50 1453.70C270.20 1470.06 270.90 1477.87 271.60 1488.20C272.47 1500.99 273.33 1515.11 274.20 1522.80C275.07 1530.49 275.93 1535.80 276.80 1540.10C277.37 1542.91 277.93 1547.00 278.50 1547.00C279.07 1547.00 279.63 1542.62 280.20 1541.80C280.80 1540.93 281.40 1540.10 282.00 1540.10C282.57 1540.10 283.13 1546.33 283.70 1547.00C284.57 1548.03 285.43 1547.71 286.30 1548.70C287.17 1549.69 288.03 1558.37 288.90 1560.80C289.93 1563.69 290.97 1566.90 292.00 1566.90C292.97 1566.90 293.93 1562.54 294.90 1559.10C296.07 1554.95 297.23 1545.11 298.40 1540.10C299.53 1535.23 300.67 1535.61 301.80 1528.00C302.20 1525.32 302.60 1516.30 303.00 1505.50C303.37 1495.60 303.73 1480.15 304.10 1453.70C304.33 1436.87 304.57 1391.50 304.80 1360.40M372.50 1360.40C372.83 1362.70 373.17 1365.38 373.50 1367.30C374.10 1370.75 374.70 1372.46 375.30 1375.90C376.43 1382.40 377.57 1393.71 378.70 1401.80C380.43 1414.17 382.17 1424.87 383.90 1436.40C385.63 1447.93 387.37 1460.29 389.10 1471.00C391.10 1483.36 393.10 1498.97 395.10 1505.50C397.70 1513.99 400.30 1517.72 402.90 1522.80C405.20 1527.29 407.50 1530.61 409.80 1534.90C411.83 1538.69 413.87 1547.00 415.90 1547.00C416.77 1547.00 417.63 1543.66 418.50 1540.10C419.63 1535.45 420.77 1519.73 421.90 1505.50C422.77 1494.62 423.63 1468.81 424.50 1464.00C424.80 1462.33 425.10 1460.60 425.40 1460.60C426.53 1460.60 427.67 1471.83 428.80 1477.90C430.27 1485.76 431.73 1502.90 433.20 1502.90C434.63 1502.90 436.07 1496.85 437.50 1493.40C439.23 1489.23 440.97 1484.08 442.70 1479.60C444.30 1475.46 445.90 1467.50 447.50 1467.50C449.33 1467.50 451.17 1472.95 453.00 1477.90C454.73 1482.58 456.47 1494.03 458.20 1502.10C459.93 1510.17 461.67 1519.91 463.40 1526.30C465.70 1534.78 468.00 1540.95 470.30 1547.00C472.50 1552.79 474.70 1559.43 476.90 1562.50C478.93 1565.34 480.97 1568.60 483.00 1568.60C484.43 1568.60 485.87 1566.00 487.30 1566.00C488.43 1566.00 489.57 1566.00 490.70 1566.00C493.30 1566.00 495.90 1555.60 498.50 1555.60C499.93 1555.60 501.37 1562.02 502.80 1564.30C504.83 1567.53 506.87 1572.10 508.90 1572.10C510.33 1572.10 511.77 1562.70 513.20 1557.40C514.63 1552.10 516.07 1540.10 517.50 1540.10C519.53 1540.10 521.57 1552.91 523.60 1555.60C525.90 1558.65 528.20 1559.54 530.50 1561.70C532.80 1563.86 535.10 1568.60 537.40 1568.60C538.27 1568.60 539.13 1565.11 540.00 1560.80C540.87 1556.49 541.73 1539.19 542.60 1522.80C543.27 1510.19 543.93 1494.08 544.60 1471.00C545.07 1454.84 545.53 1418.46 546.00 1401.80C546.30 1391.09 546.60 1377.13 546.90 1375.90C547.47 1373.57 548.03 1372.50 548.60 1372.50C549.00 1372.50 549.40 1381.08 549.80 1384.60C550.40 1389.87 551.00 1398.40 551.60 1398.40C552.33 1398.40 553.07 1388.17 553.80 1381.10C554.37 1375.63 554.93 1367.30 555.50 1360.40M565.00 1360.40C566.17 1374.20 567.33 1387.15 568.50 1401.80C569.37 1412.69 570.23 1424.87 571.10 1436.40C571.97 1447.93 572.83 1460.96 573.70 1471.00C574.83 1484.13 575.97 1495.79 577.10 1505.50C578.27 1515.49 579.43 1525.47 580.60 1531.40C581.63 1536.65 582.67 1543.50 583.70 1543.50C584.40 1543.50 585.10 1536.95 585.80 1531.40C586.67 1524.53 587.53 1507.14 588.40 1496.90C589.27 1486.66 590.13 1469.20 591.00 1469.20C591.87 1469.20 592.73 1480.88 593.60 1488.20C594.73 1497.77 595.87 1513.15 597.00 1522.80C598.43 1535.00 599.87 1546.08 601.30 1553.90C603.03 1563.36 604.77 1573.24 606.50 1576.40C608.53 1580.10 610.57 1581.12 612.60 1583.30C614.30 1585.12 616.00 1588.50 617.70 1588.50C619.17 1588.50 620.63 1578.79 622.10 1574.60C623.53 1570.51 624.97 1563.40 626.40 1563.40C627.83 1563.40 629.27 1567.82 630.70 1569.50C632.13 1571.18 633.57 1573.80 635.00 1573.80C636.43 1573.80 637.87 1568.73 639.30 1564.30C640.47 1560.69 641.63 1553.91 642.80 1547.00C643.97 1540.09 645.13 1528.52 646.30 1521.10C647.43 1513.89 648.57 1506.01 649.70 1502.10C650.87 1498.08 652.03 1493.40 653.20 1493.40C654.93 1493.40 656.67 1495.78 658.40 1498.60C659.53 1500.44 660.67 1508.18 661.80 1510.70C664.10 1515.80 666.40 1517.77 668.70 1521.10C671.60 1525.30 674.50 1529.65 677.40 1533.20C680.83 1537.40 684.27 1544.40 687.70 1544.40C689.13 1544.40 690.57 1538.24 692.00 1534.90C693.17 1532.18 694.33 1526.30 695.50 1526.30C696.93 1526.30 698.37 1536.35 699.80 1540.10C700.97 1543.15 702.13 1547.90 703.30 1547.90C705.30 1547.90 707.30 1543.50 709.30 1543.50C710.73 1543.50 712.17 1549.67 713.60 1552.20C715.07 1554.79 716.53 1559.10 718.00 1559.10C720.30 1559.10 722.60 1555.60 724.90 1555.60C726.33 1555.60 727.77 1558.63 729.20 1560.80C731.50 1564.27 733.80 1572.66 736.10 1575.50C738.40 1578.34 740.70 1580.03 743.00 1581.50C745.30 1582.97 747.60 1585.00 749.90 1585.00C751.37 1585.00 752.83 1584.02 754.30 1582.40C755.73 1580.82 757.17 1559.26 758.60 1548.70C760.00 1538.39 761.40 1519.50 762.80 1519.50C763.80 1519.50 764.80 1525.86 765.80 1530.60C767.33 1537.87 768.87 1555.80 770.40 1562.90C772.70 1573.55 775.00 1582.52 777.30 1585.90C779.97 1589.82 782.63 1593.30 785.30 1593.30C786.87 1593.30 788.43 1592.44 790.00 1591.70C792.13 1590.69 794.27 1586.40 796.40 1586.40C799.63 1586.40 802.87 1596.30 806.10 1596.30C811.10 1596.30 816.10 1596.30 821.10 1596.30C823.77 1596.30 826.43 1597.81 829.10 1598.60C833.33 1599.85 837.57 1602.50 841.80 1602.50C845.63 1602.50 849.47 1599.30 853.30 1599.30C856.00 1599.30 858.70 1601.30 861.40 1601.30C865.23 1601.30 869.07 1601.30 872.90 1601.30C875.60 1601.30 878.30 1598.18 881.00 1597.90C886.73 1597.31 892.47 1597.00 898.20 1597.00C900.90 1597.00 903.60 1599.00 906.30 1599.00C908.60 1599.00 910.90 1597.40 913.20 1597.40C918.60 1597.40 924.00 1597.90 929.40 1597.90C931.30 1597.90 933.20 1590.98 935.10 1588.20C937.40 1584.83 939.70 1579.40 942.00 1579.40C943.93 1579.40 945.87 1585.28 947.80 1588.20C950.10 1591.68 952.40 1597.19 954.70 1598.60C957.77 1600.47 960.83 1602.00 963.90 1602.00C965.83 1602.00 967.77 1597.72 969.70 1595.10C972.00 1591.98 974.30 1584.10 976.60 1584.10C978.53 1584.10 980.47 1586.40 982.40 1586.40C984.30 1586.40 986.20 1582.90 988.10 1582.90C990.40 1582.90 992.70 1589.80 995.00 1589.80C997.30 1589.80 999.60 1587.50 1001.90 1587.50C1005.73 1587.50 1009.57 1587.82 1013.40 1588.20C1015.33 1588.39 1017.27 1589.40 1019.20 1589.40C1020.37 1589.40 1021.53 1582.99 1022.70 1576.70C1024.23 1568.43 1025.77 1539.40 1027.30 1523.70C1029.00 1506.30 1030.70 1476.90 1032.40 1476.90C1033.77 1476.90 1035.13 1489.87 1036.50 1500.60C1038.03 1512.64 1039.57 1548.42 1041.10 1558.20C1043.40 1572.87 1045.70 1586.40 1048.00 1586.40C1049.40 1586.40 1050.80 1586.40 1052.20 1586.40C1055.03 1586.40 1057.87 1576.70 1060.70 1576.70C1064.17 1576.70 1067.63 1583.60 1071.10 1583.60C1074.93 1583.60 1078.77 1579.80 1082.60 1577.80C1085.43 1576.32 1088.27 1573.20 1091.10 1573.20C1094.80 1573.20 1098.50 1580.10 1102.20 1580.10C1104.87 1580.10 1107.53 1579.40 1110.20 1579.40C1113.27 1579.40 1116.33 1581.38 1119.40 1581.80C1124.40 1582.48 1129.40 1583.10 1134.40 1583.10C1138.63 1583.10 1142.87 1580.28 1147.10 1579.00C1151.70 1577.61 1156.30 1577.10 1160.90 1575.10C1164.53 1573.52 1168.17 1565.70 1171.80 1565.70C1175.43 1565.70 1179.07 1571.10 1182.70 1571.10C1189.93 1571.10 1197.17 1569.70 1204.40 1569.70C1208.03 1569.70 1211.67 1571.10 1215.30 1571.10C1218.33 1571.10 1221.37 1566.80 1224.40 1566.80C1231.67 1566.80 1238.93 1573.30 1246.20 1573.30C1252.83 1573.30 1259.47 1571.10 1266.10 1571.10C1270.93 1571.10 1275.77 1573.00 1280.60 1573.00C1287.07 1573.00 1293.53 1572.81 1300.00 1572.60C1316.90 1572.06 1333.80 1568.91 1350.70 1566.70C1367.60 1564.49 1384.50 1561.82 1401.40 1559.10C1418.30 1556.38 1435.20 1553.69 1452.10 1550.30C1464.77 1547.76 1477.43 1545.03 1490.10 1541.40C1502.77 1537.77 1515.43 1533.27 1528.10 1527.40C1536.57 1523.48 1545.03 1517.66 1553.50 1512.20C1561.93 1506.76 1570.37 1501.13 1578.80 1494.50C1587.27 1487.84 1595.73 1480.40 1604.20 1471.70C1612.63 1463.03 1621.07 1452.55 1629.50 1441.30C1637.97 1430.00 1646.43 1417.32 1654.90 1403.20C1662.50 1390.53 1670.10 1374.80 1677.70 1360.60M1730.50 1360.00C1731.13 1379.70 1731.77 1406.11 1732.40 1419.10C1733.17 1434.82 1733.93 1442.18 1734.70 1453.70C1735.47 1465.22 1736.23 1476.68 1737.00 1488.20C1737.77 1499.72 1738.53 1514.07 1739.30 1522.80C1740.03 1531.15 1740.77 1539.13 1741.50 1543.00C1743.17 1551.79 1744.83 1556.62 1746.50 1560.00C1748.83 1564.74 1751.17 1567.06 1753.50 1569.80C1756.53 1573.36 1759.57 1575.87 1762.60 1578.90"/>
<path d="M188.00 1800.00C206.63 1800.00 225.27 1800.00 243.90 1800.00C245.07 1800.00 246.23 1798.04 247.40 1794.90C247.97 1793.38 248.53 1789.79 249.10 1781.00C249.40 1776.35 249.70 1747.50 250.00 1729.20C250.27 1712.93 250.53 1697.29 250.80 1677.40C251.00 1662.49 251.20 1645.27 251.40 1625.50C251.80 1585.97 252.20 1529.30 252.60 1481.20M264.30 1481.20C264.70 1494.73 265.10 1508.31 265.50 1521.80C266.10 1542.04 266.70 1567.12 267.30 1582.30C267.87 1596.63 268.43 1607.03 269.00 1616.90C269.57 1626.77 270.13 1636.42 270.70 1642.80C271.57 1652.55 272.43 1659.79 273.30 1665.30C274.47 1672.71 275.63 1682.50 276.80 1682.50C277.37 1682.50 277.93 1670.53 278.50 1660.10C279.07 1649.67 279.63 1619.06 280.20 1608.20C280.80 1596.70 281.40 1583.20 282.00 1583.20C282.57 1583.20 283.13 1587.00 283.70 1591.00C284.27 1595.00 284.83 1609.97 285.40 1616.90C286.27 1627.50 287.13 1633.90 288.00 1642.80C289.17 1654.78 290.33 1680.00 291.50 1680.00C292.33 1680.00 293.17 1674.29 294.00 1668.70C294.70 1664.01 295.40 1652.27 296.10 1642.80C296.57 1636.49 297.03 1625.94 297.50 1622.10C298.07 1617.44 298.63 1612.60 299.20 1612.60C299.80 1612.60 300.40 1618.60 301.00 1618.60C301.57 1618.60 302.13 1612.48 302.70 1604.80C303.03 1600.28 303.37 1591.12 303.70 1573.70C303.93 1561.51 304.17 1512.03 304.40 1481.20M369.20 1481.20C370.63 1494.73 372.07 1508.84 373.50 1521.80C375.23 1537.47 376.97 1551.92 378.70 1566.80C381.00 1586.54 383.30 1608.44 385.60 1625.50C387.07 1636.38 388.53 1647.54 390.00 1654.90C391.43 1662.09 392.87 1668.80 394.30 1672.20C396.03 1676.32 397.77 1677.24 399.50 1680.80C401.20 1684.29 402.90 1690.97 404.60 1694.60C406.93 1699.58 409.27 1702.71 411.60 1706.70C414.17 1711.09 416.73 1719.70 419.30 1719.70C420.73 1719.70 422.17 1713.99 423.60 1708.50C425.33 1701.87 427.07 1676.32 428.80 1668.70C430.27 1662.25 431.73 1654.90 433.20 1654.90C435.20 1654.90 437.20 1663.75 439.20 1665.30C441.50 1667.09 443.80 1666.81 446.10 1668.70C448.40 1670.59 450.70 1679.48 453.00 1686.00C455.30 1692.52 457.60 1703.56 459.90 1708.50C462.23 1713.51 464.57 1716.25 466.90 1719.70C469.20 1723.10 471.50 1728.74 473.80 1729.20C476.33 1729.70 478.87 1729.54 481.40 1730.00C483.63 1730.40 485.87 1733.80 488.10 1733.80C489.03 1733.80 489.97 1730.51 490.90 1727.10C491.87 1723.56 492.83 1709.77 493.80 1704.30C494.73 1699.02 495.67 1691.90 496.60 1691.90C497.57 1691.90 498.53 1696.33 499.50 1698.60C500.30 1700.47 501.10 1704.30 501.90 1704.30C502.67 1704.30 503.43 1697.37 504.20 1692.90C505.17 1687.26 506.13 1675.21 507.10 1672.00C507.90 1669.34 508.70 1666.70 509.50 1666.70C510.60 1666.70 511.70 1669.42 512.80 1672.00C514.07 1674.97 515.33 1683.93 516.60 1689.10C517.87 1694.27 519.13 1699.73 520.40 1703.30C521.97 1707.72 523.53 1710.10 525.10 1713.80C526.37 1716.79 527.63 1721.15 528.90 1723.30C529.87 1724.94 530.83 1727.10 531.80 1727.10C532.43 1727.10 533.07 1720.47 533.70 1713.80C534.13 1709.23 534.57 1699.99 535.00 1689.10C535.50 1676.53 536.00 1660.05 536.50 1632.10C536.83 1613.47 537.17 1575.81 537.50 1537.00C537.63 1521.47 537.77 1499.67 537.90 1481.00M563.10 1481.00C563.43 1493.33 563.77 1509.07 564.10 1518.00C564.73 1534.97 565.37 1543.33 566.00 1556.00C566.63 1568.67 567.27 1583.63 567.90 1594.00C568.83 1609.28 569.77 1619.55 570.70 1632.00C571.67 1644.89 572.63 1658.91 573.60 1670.00C574.53 1680.71 575.47 1692.12 576.40 1698.60C577.37 1705.31 578.33 1711.12 579.30 1713.80C580.23 1716.39 581.17 1719.10 582.10 1719.10C583.07 1719.10 584.03 1710.72 585.00 1708.10C586.07 1705.21 587.13 1701.40 588.20 1701.40C589.37 1701.40 590.53 1707.91 591.70 1711.90C592.97 1716.23 594.23 1722.88 595.50 1727.10C597.07 1732.32 598.63 1738.08 600.20 1740.40C601.80 1742.77 603.40 1744.75 605.00 1745.20C606.90 1745.73 608.80 1745.58 610.70 1746.10C611.97 1746.45 613.23 1749.00 614.50 1749.00C615.43 1749.00 616.37 1743.66 617.30 1736.60C617.93 1731.81 618.57 1711.27 619.20 1698.60C619.83 1685.93 620.47 1669.11 621.10 1660.60C621.93 1649.41 622.77 1635.90 623.60 1635.90C624.67 1635.90 625.73 1645.73 626.80 1651.10C628.27 1658.48 629.73 1674.80 631.20 1674.80C632.27 1674.80 633.33 1667.16 634.40 1660.60C635.37 1654.65 636.33 1643.14 637.30 1632.10C638.23 1621.44 639.17 1606.46 640.10 1594.00C641.07 1581.09 642.03 1567.07 643.00 1556.00C643.93 1545.31 644.87 1532.98 645.80 1527.50C647.07 1520.06 648.33 1514.66 649.60 1512.30C651.83 1508.14 654.07 1504.70 656.30 1504.70C658.20 1504.70 660.10 1508.66 662.00 1512.30C663.57 1515.30 665.13 1521.28 666.70 1527.50C668.30 1533.85 669.90 1544.97 671.50 1552.20C673.40 1560.78 675.30 1567.40 677.20 1575.00C679.10 1582.60 681.00 1590.17 682.90 1597.80C684.17 1602.88 685.43 1612.11 686.70 1613.10C687.33 1613.59 687.97 1614.00 688.60 1614.00C689.73 1614.00 690.87 1609.60 692.00 1609.60C693.07 1609.60 694.13 1612.71 695.20 1615.00C696.47 1617.71 697.73 1626.40 699.00 1626.40C700.10 1626.40 701.20 1617.99 702.30 1615.00C703.43 1611.92 704.57 1607.40 705.70 1607.40C706.67 1607.40 707.63 1610.20 708.60 1610.20C709.83 1610.20 711.07 1604.71 712.30 1603.60C713.40 1602.61 714.50 1601.60 715.60 1601.60C716.43 1601.60 717.27 1603.39 718.10 1605.40C719.03 1607.65 719.97 1616.93 720.90 1622.60C722.17 1630.29 723.43 1637.50 724.70 1645.40C725.97 1653.30 727.23 1663.81 728.50 1670.10C730.10 1678.05 731.70 1685.17 733.30 1689.10C735.50 1694.50 737.70 1697.20 739.90 1700.50C741.80 1703.35 743.70 1705.63 745.60 1708.10C747.83 1711.01 750.07 1716.60 752.30 1716.60C754.50 1716.60 756.70 1713.80 758.90 1713.80C761.43 1713.80 763.97 1720.81 766.50 1723.30C769.67 1726.41 772.83 1728.67 776.00 1730.90C778.53 1732.68 781.07 1735.29 783.60 1735.70C785.73 1736.04 787.87 1736.30 790.00 1736.30C793.47 1736.30 796.93 1729.40 800.40 1729.40C803.07 1729.40 805.73 1734.45 808.40 1736.30C811.47 1738.43 814.53 1741.60 817.60 1741.60C821.83 1741.60 826.07 1738.60 830.30 1738.60C835.30 1738.60 840.30 1746.70 845.30 1746.70C849.53 1746.70 853.77 1744.40 858.00 1744.40C861.43 1744.40 864.87 1748.29 868.30 1749.00C872.93 1749.96 877.57 1750.80 882.20 1750.80C887.17 1750.80 892.13 1747.10 897.10 1747.10C902.10 1747.10 907.10 1751.30 912.10 1751.30C915.17 1751.30 918.23 1749.71 921.30 1747.80C923.23 1746.60 925.17 1739.80 927.10 1739.80C929.80 1739.80 932.50 1739.80 935.20 1739.80C936.73 1739.80 938.27 1736.44 939.80 1732.90C941.33 1729.36 942.87 1715.56 944.40 1709.80C945.53 1705.54 946.67 1699.40 947.80 1699.40C949.33 1699.40 950.87 1707.57 952.40 1712.10C954.33 1717.81 956.27 1726.92 958.20 1730.60C960.50 1734.98 962.80 1739.80 965.10 1739.80C966.63 1739.80 968.17 1733.77 969.70 1728.20C971.23 1722.63 972.77 1705.35 974.30 1698.30C975.47 1692.94 976.63 1685.60 977.80 1685.60C979.33 1685.60 980.87 1693.00 982.40 1698.30C984.33 1704.99 986.27 1720.56 988.20 1725.90C990.10 1731.14 992.00 1737.00 993.90 1737.00C996.60 1737.00 999.30 1735.52 1002.00 1734.70C1005.07 1733.77 1008.13 1731.70 1011.20 1731.70C1013.50 1731.70 1015.80 1736.30 1018.10 1736.30C1019.27 1736.30 1020.43 1732.46 1021.60 1728.20C1023.13 1722.60 1024.67 1699.98 1026.20 1682.20C1027.33 1669.06 1028.47 1646.57 1029.60 1636.10C1030.37 1629.02 1031.13 1619.50 1031.90 1619.50C1032.83 1619.50 1033.77 1625.51 1034.70 1631.50C1035.70 1637.91 1036.70 1659.47 1037.70 1670.60C1039.23 1687.66 1040.77 1707.63 1042.30 1714.40C1044.60 1724.56 1046.90 1733.30 1049.20 1733.30C1051.13 1733.30 1053.07 1728.91 1055.00 1727.10C1057.13 1725.10 1059.27 1721.80 1061.40 1721.80C1065.03 1721.80 1068.67 1730.60 1072.30 1730.60C1074.97 1730.60 1077.63 1723.36 1080.30 1720.20C1083.00 1717.00 1085.70 1711.40 1088.40 1711.40C1092.23 1711.40 1096.07 1722.50 1099.90 1722.50C1102.97 1722.50 1106.03 1719.70 1109.10 1719.70C1112.57 1719.70 1116.03 1721.30 1119.50 1721.30C1123.73 1721.30 1127.97 1721.19 1132.20 1720.90C1134.10 1720.77 1136.00 1716.79 1137.90 1714.40C1140.60 1711.01 1143.30 1702.90 1146.00 1702.90C1149.07 1702.90 1152.13 1712.10 1155.20 1712.10C1157.50 1712.10 1159.80 1708.70 1162.10 1705.20C1164.40 1701.70 1166.70 1683.30 1169.00 1683.30C1170.93 1683.30 1172.87 1689.32 1174.80 1693.70C1176.33 1697.18 1177.87 1707.50 1179.40 1707.50C1183.07 1707.50 1186.73 1705.11 1190.40 1701.20C1192.13 1699.35 1193.87 1687.56 1195.60 1683.90C1197.07 1680.80 1198.53 1677.00 1200.00 1677.00C1201.40 1677.00 1202.80 1681.31 1204.20 1683.90C1205.57 1686.43 1206.93 1692.60 1208.30 1692.60C1209.80 1692.60 1211.30 1687.40 1212.80 1683.90C1214.53 1679.86 1216.27 1668.40 1218.00 1668.40C1219.73 1668.40 1221.47 1679.69 1223.20 1683.90C1225.50 1689.48 1227.80 1694.37 1230.10 1697.80C1232.17 1700.88 1234.23 1702.93 1236.30 1705.20C1240.33 1709.63 1244.37 1716.18 1248.40 1717.30C1254.83 1719.08 1261.27 1720.20 1267.70 1720.20C1277.40 1720.20 1287.10 1719.95 1296.80 1719.70C1312.93 1719.29 1329.07 1717.97 1345.20 1716.80C1361.33 1715.63 1377.47 1714.09 1393.60 1712.40C1409.73 1710.71 1425.87 1708.60 1442.00 1706.40C1458.10 1704.21 1474.20 1702.01 1490.30 1699.10C1506.43 1696.18 1522.57 1692.14 1538.70 1688.20C1550.80 1685.25 1562.90 1682.03 1575.00 1678.60C1583.07 1676.32 1591.13 1674.02 1599.20 1671.30C1605.03 1669.33 1610.87 1667.41 1616.70 1664.70C1621.83 1662.31 1626.97 1658.63 1632.10 1655.50C1637.67 1652.11 1643.23 1648.80 1648.80 1645.10C1652.07 1642.93 1655.33 1640.66 1658.60 1638.20C1663.73 1634.34 1668.87 1630.22 1674.00 1625.60C1679.10 1621.01 1684.20 1615.75 1689.30 1610.30C1695.37 1603.81 1701.43 1596.86 1707.50 1589.30C1710.33 1585.77 1713.17 1581.51 1716.00 1578.00C1717.33 1576.35 1718.67 1573.30 1720.00 1573.30C1721.17 1573.30 1722.33 1574.28 1723.50 1575.40C1724.67 1576.52 1725.83 1579.12 1727.00 1583.70C1727.93 1587.36 1728.87 1601.36 1729.80 1611.70C1730.73 1622.04 1731.67 1639.55 1732.60 1646.50C1733.77 1655.19 1734.93 1660.08 1736.10 1664.70C1737.73 1671.16 1739.37 1673.46 1741.00 1680.00C1742.37 1685.48 1743.73 1696.28 1745.10 1702.40C1746.97 1710.76 1748.83 1718.32 1750.70 1723.30C1753.97 1732.02 1757.23 1736.30 1760.50 1742.80"/>
<path d="M188.60 1959.20C208.20 1959.20 227.80 1959.20 247.40 1959.20C248.27 1959.20 249.13 1954.52 250.00 1949.70C250.57 1946.55 251.13 1944.03 251.70 1932.40C251.87 1928.98 252.03 1911.97 252.20 1897.80C252.33 1886.46 252.47 1865.70 252.60 1854.60C252.87 1832.39 253.13 1820.92 253.40 1802.80C253.80 1775.62 254.20 1739.11 254.60 1716.40C254.97 1695.58 255.33 1677.50 255.70 1664.60C256.00 1654.05 256.30 1647.53 256.60 1639.00M264.20 1639.00C264.37 1656.17 264.53 1678.40 264.70 1690.50C264.97 1709.86 265.23 1727.15 265.50 1733.70C266.10 1748.43 266.70 1750.72 267.30 1759.60C267.87 1767.99 268.43 1775.75 269.00 1785.50C269.30 1790.66 269.60 1797.64 269.90 1802.80C270.47 1812.55 271.03 1822.62 271.60 1828.70C272.47 1837.99 273.33 1844.40 274.20 1849.50C275.07 1854.60 275.93 1859.48 276.80 1861.60C277.67 1863.72 278.53 1865.90 279.40 1865.90C279.83 1865.90 280.27 1847.82 280.70 1837.40C281.13 1826.98 281.57 1806.82 282.00 1802.80C282.43 1798.78 282.87 1795.50 283.30 1795.50C284.00 1795.50 284.70 1806.43 285.40 1811.40C286.27 1817.55 287.13 1822.18 288.00 1828.70C288.87 1835.22 289.73 1847.05 290.60 1851.20C291.47 1855.35 292.33 1859.80 293.20 1859.80C294.07 1859.80 294.93 1851.12 295.80 1846.00C296.67 1840.88 297.53 1830.13 298.40 1828.70C298.97 1827.76 299.53 1827.00 300.10 1827.00C300.97 1827.00 301.83 1831.30 302.70 1831.30C303.17 1831.30 303.63 1824.49 304.10 1816.60C304.50 1809.83 304.90 1790.74 305.30 1768.20C305.57 1753.17 305.83 1729.26 306.10 1699.10C306.23 1684.02 306.37 1659.03 306.50 1639.00M367.50 1639.00C368.37 1650.40 369.23 1663.20 370.10 1673.20C371.23 1686.28 372.37 1698.56 373.50 1707.80C375.23 1721.93 376.97 1730.78 378.70 1742.30C380.43 1753.82 382.17 1765.38 383.90 1776.90C385.63 1788.42 387.37 1800.82 389.10 1811.40C390.83 1821.98 392.57 1837.12 394.30 1840.80C396.60 1845.69 398.90 1845.69 401.20 1849.50C402.93 1852.37 404.67 1858.13 406.40 1861.60C408.70 1866.21 411.00 1873.60 413.30 1873.60C414.43 1873.60 415.57 1868.98 416.70 1863.30C417.87 1857.45 419.03 1824.10 420.20 1811.40C421.33 1799.06 422.47 1786.90 423.60 1782.10C425.33 1774.76 427.07 1772.87 428.80 1768.20C430.07 1764.79 431.33 1757.90 432.60 1757.90C434.50 1757.90 436.40 1769.03 438.30 1773.40C440.33 1778.07 442.37 1780.41 444.40 1785.50C446.13 1789.84 447.87 1795.54 449.60 1802.80C451.33 1810.06 453.07 1824.30 454.80 1832.20C457.10 1842.68 459.40 1851.19 461.70 1858.10C464.00 1865.01 466.30 1871.30 468.60 1875.40C470.97 1879.62 473.33 1883.96 475.70 1885.20C477.60 1886.20 479.50 1886.17 481.40 1887.10C483.80 1888.28 486.20 1894.30 488.60 1894.30C489.37 1894.30 490.13 1883.97 490.90 1877.60C491.87 1869.57 492.83 1855.69 493.80 1849.10C495.07 1840.47 496.33 1829.70 497.60 1829.70C498.53 1829.70 499.47 1836.13 500.40 1839.60C501.37 1843.20 502.33 1851.00 503.30 1851.00C504.23 1851.00 505.17 1843.11 506.10 1839.60C507.23 1835.34 508.37 1827.80 509.50 1827.80C510.60 1827.80 511.70 1832.31 512.80 1835.80C514.37 1840.77 515.93 1851.75 517.50 1858.60C518.77 1864.14 520.03 1870.00 521.30 1873.80C523.20 1879.50 525.10 1883.26 527.00 1887.10C528.60 1890.33 530.20 1895.70 531.80 1895.70C532.43 1895.70 533.07 1891.78 533.70 1887.10C534.33 1882.42 534.97 1869.62 535.60 1849.10C535.90 1839.38 536.20 1812.81 536.50 1792.10C536.83 1769.09 537.17 1742.88 537.50 1716.00C537.80 1691.81 538.10 1664.67 538.40 1639.00M564.10 1639.00C564.73 1658.33 565.37 1681.69 566.00 1697.00C566.63 1712.31 567.27 1722.32 567.90 1735.00C568.53 1747.68 569.17 1760.42 569.80 1773.10C570.43 1785.78 571.07 1801.79 571.70 1811.10C572.53 1823.35 573.37 1831.43 574.20 1839.60C574.93 1846.79 575.67 1853.10 576.40 1858.60C577.37 1865.85 578.33 1874.22 579.30 1877.60C580.23 1880.86 581.17 1884.30 582.10 1884.30C583.07 1884.30 584.03 1877.18 585.00 1875.70C585.93 1874.27 586.87 1872.80 587.80 1872.80C589.10 1872.80 590.40 1879.49 591.70 1883.30C593.27 1887.89 594.83 1895.12 596.40 1898.50C598.63 1903.31 600.87 1907.79 603.10 1909.00C605.00 1910.03 606.90 1910.08 608.80 1910.90C610.37 1911.58 611.93 1913.70 613.50 1913.70C614.47 1913.70 615.43 1909.56 616.40 1904.20C617.03 1900.69 617.67 1886.14 618.30 1877.60C618.93 1869.06 619.57 1858.60 620.20 1852.90C621.00 1845.70 621.80 1836.70 622.60 1836.70C623.37 1836.70 624.13 1841.83 624.90 1845.30C626.17 1851.03 627.43 1863.84 628.70 1868.10C629.77 1871.69 630.83 1875.70 631.90 1875.70C633.07 1875.70 634.23 1869.34 635.40 1864.30C636.67 1858.83 637.93 1847.83 639.20 1839.60C640.47 1831.37 641.73 1821.64 643.00 1814.90C644.27 1808.16 645.53 1802.36 646.80 1797.80C648.07 1793.24 649.33 1788.51 650.60 1786.40C652.00 1784.07 653.40 1781.60 654.80 1781.60C656.57 1781.60 658.33 1784.21 660.10 1786.40C662.00 1788.76 663.90 1793.71 665.80 1797.80C667.70 1801.89 669.60 1806.67 671.50 1811.10C673.40 1815.53 675.30 1820.31 677.20 1824.40C679.10 1828.49 681.00 1832.68 682.90 1835.80C684.47 1838.37 686.03 1842.40 687.60 1842.40C688.87 1842.40 690.13 1841.50 691.40 1841.50C692.67 1841.50 693.93 1843.90 695.20 1845.30C696.47 1846.70 697.73 1850.00 699.00 1850.00C699.97 1850.00 700.93 1844.48 701.90 1841.50C703.17 1837.60 704.43 1829.10 705.70 1829.10C706.83 1829.10 707.97 1830.10 709.10 1830.10C710.17 1830.10 711.23 1829.39 712.30 1829.10C713.57 1828.76 714.83 1828.20 716.10 1828.20C717.40 1828.20 718.70 1832.53 720.00 1835.80C721.57 1839.74 723.13 1847.73 724.70 1852.90C726.60 1859.17 728.50 1865.93 730.40 1870.00C732.30 1874.07 734.20 1877.10 736.10 1879.50C738.63 1882.70 741.17 1884.93 743.70 1887.10C746.23 1889.27 748.77 1892.80 751.30 1892.80C754.17 1892.80 757.03 1886.10 759.90 1886.10C762.10 1886.10 764.30 1892.59 766.50 1894.70C769.03 1897.13 771.57 1898.88 774.10 1900.40C776.63 1901.92 779.17 1903.63 781.70 1904.20C784.47 1904.83 787.23 1905.40 790.00 1905.40C793.23 1905.40 796.47 1899.70 799.70 1899.70C804.13 1899.70 808.57 1907.00 813.00 1907.00C815.33 1907.00 817.67 1907.00 820.00 1907.00C823.43 1907.00 826.87 1898.50 830.30 1898.50C835.30 1898.50 840.30 1910.50 845.30 1910.50C849.53 1910.50 853.77 1907.70 858.00 1907.70C861.83 1907.70 865.67 1910.91 869.50 1911.70C874.87 1912.81 880.23 1914.00 885.60 1914.00C890.20 1914.00 894.80 1909.40 899.40 1909.40C903.63 1909.40 907.87 1912.80 912.10 1912.80C915.93 1912.80 919.77 1912.12 923.60 1911.00C925.93 1910.32 928.27 1904.30 930.60 1903.10C932.90 1901.92 935.20 1902.27 937.50 1900.80C939.40 1899.58 941.30 1882.26 943.20 1873.60C945.13 1864.79 947.07 1848.30 949.00 1848.30C950.90 1848.30 952.80 1861.78 954.70 1869.00C956.63 1876.34 958.57 1888.26 960.50 1892.10C962.67 1896.41 964.83 1900.60 967.00 1900.60C968.67 1900.60 970.33 1890.36 972.00 1882.90C973.53 1876.04 975.07 1861.57 976.60 1855.20C977.53 1851.32 978.47 1846.00 979.40 1846.00C980.77 1846.00 982.13 1856.24 983.50 1862.10C985.43 1870.39 987.37 1885.70 989.30 1889.80C991.60 1894.67 993.90 1899.00 996.20 1899.00C998.90 1899.00 1001.60 1894.30 1004.30 1893.20C1007.00 1892.10 1009.70 1890.90 1012.40 1890.90C1014.70 1890.90 1017.00 1895.50 1019.30 1895.50C1020.43 1895.50 1021.57 1889.52 1022.70 1882.90C1024.23 1873.95 1025.77 1831.18 1027.30 1809.10C1028.47 1792.30 1029.63 1769.90 1030.80 1763.00C1031.57 1758.46 1032.33 1753.80 1033.10 1753.80C1034.10 1753.80 1035.10 1762.51 1036.10 1770.00C1037.40 1779.74 1038.70 1804.71 1040.00 1820.60C1041.53 1839.34 1043.07 1865.77 1044.60 1873.60C1046.53 1883.47 1048.47 1892.10 1050.40 1892.10C1051.93 1892.10 1053.47 1891.51 1055.00 1890.90C1057.47 1889.92 1059.93 1883.30 1062.40 1883.30C1065.93 1883.30 1069.47 1890.50 1073.00 1890.50C1075.43 1890.50 1077.87 1884.60 1080.30 1881.70C1083.37 1878.05 1086.43 1870.90 1089.50 1870.90C1093.73 1870.90 1097.97 1882.90 1102.20 1882.90C1105.67 1882.90 1109.13 1879.40 1112.60 1879.40C1116.43 1879.40 1120.27 1881.70 1124.10 1881.70C1127.57 1881.70 1131.03 1881.70 1134.50 1881.70C1136.40 1881.70 1138.30 1876.11 1140.20 1873.60C1142.37 1870.74 1144.53 1865.60 1146.70 1865.60C1149.17 1865.60 1151.63 1871.98 1154.10 1872.50C1156.00 1872.90 1157.90 1873.20 1159.80 1873.20C1161.73 1873.20 1163.67 1861.76 1165.60 1857.50C1167.37 1853.61 1169.13 1847.60 1170.90 1847.60C1172.60 1847.60 1174.30 1856.06 1176.00 1859.80C1177.50 1863.10 1179.00 1869.00 1180.50 1869.00C1184.37 1869.00 1188.23 1867.48 1192.10 1864.70C1193.83 1863.45 1195.57 1854.97 1197.30 1850.90C1198.67 1847.69 1200.03 1842.20 1201.40 1842.20C1202.90 1842.20 1204.40 1846.80 1205.90 1849.10C1207.63 1851.76 1209.37 1857.10 1211.10 1857.10C1212.83 1857.10 1214.57 1847.67 1216.30 1843.90C1217.80 1840.64 1219.30 1835.30 1220.80 1835.30C1222.77 1835.30 1224.73 1843.38 1226.70 1847.40C1228.40 1850.88 1230.10 1855.20 1231.80 1857.80C1235.27 1863.10 1238.73 1866.97 1242.20 1869.90C1245.67 1872.83 1249.13 1875.98 1252.60 1876.80C1259.50 1878.42 1266.40 1879.50 1273.30 1879.50C1282.20 1879.50 1291.10 1879.50 1300.00 1879.50C1316.90 1879.50 1333.80 1877.86 1350.70 1876.70C1367.60 1875.54 1384.50 1873.63 1401.40 1872.10C1418.30 1870.57 1435.20 1869.31 1452.10 1867.50C1469.00 1865.69 1485.90 1863.59 1502.80 1860.90C1519.70 1858.21 1536.60 1854.44 1553.50 1850.50C1566.17 1847.55 1578.83 1844.26 1591.50 1840.40C1599.97 1837.82 1608.43 1834.66 1616.90 1831.50C1625.33 1828.35 1633.77 1825.44 1642.20 1821.40C1650.67 1817.35 1659.13 1811.87 1667.60 1806.20C1674.33 1801.69 1681.07 1796.80 1687.80 1791.00C1693.73 1785.89 1699.67 1779.44 1705.60 1773.20C1708.40 1770.26 1711.20 1766.84 1714.00 1764.00C1716.00 1761.97 1718.00 1758.30 1720.00 1758.30C1721.33 1758.30 1722.67 1758.60 1724.00 1759.00C1725.47 1759.44 1726.93 1761.58 1728.40 1764.40C1729.97 1767.42 1731.53 1777.17 1733.10 1786.00C1734.50 1793.89 1735.90 1809.51 1737.30 1816.30C1738.20 1820.66 1739.10 1823.42 1740.00 1826.50C1742.30 1834.36 1744.60 1840.47 1746.90 1847.40C1749.20 1854.33 1751.50 1860.96 1753.80 1868.10C1756.67 1876.99 1759.53 1886.57 1762.40 1895.80"/>
<path d="M189.50 2075.10C209.10 2075.10 228.70 2075.10 248.30 2075.10C249.73 2075.10 251.17 2072.72 252.60 2069.60C253.47 2067.72 254.33 2060.82 255.20 2055.70C256.07 2050.58 256.93 2044.89 257.80 2038.50C258.37 2034.32 258.93 2031.37 259.50 2024.60C259.80 2021.02 260.10 2012.02 260.40 2007.40C260.67 2003.29 260.93 1999.45 261.20 1997.00C261.67 1992.72 262.13 1991.79 262.60 1987.50C263.13 1982.60 263.67 1974.48 264.20 1964.20C264.47 1959.06 264.73 1947.16 265.00 1943.40C265.30 1939.17 265.60 1934.80 265.90 1934.80C266.37 1934.80 266.83 1941.08 267.30 1946.90C267.70 1951.89 268.10 1967.97 268.50 1972.80C269.23 1981.66 269.97 1984.80 270.70 1990.10C271.57 1996.36 272.43 2002.65 273.30 2007.40C274.17 2012.15 275.03 2017.21 275.90 2019.50C276.77 2021.79 277.63 2024.30 278.50 2024.30C279.67 2024.30 280.83 2023.44 282.00 2022.00C282.83 2020.97 283.67 2012.89 284.50 2007.40C285.27 2002.35 286.03 1995.30 286.80 1990.10C287.50 1985.35 288.20 1977.10 288.90 1977.10C289.77 1977.10 290.63 1987.68 291.50 1993.50C292.07 1997.31 292.63 2005.60 293.20 2005.60C293.77 2005.60 294.33 2001.88 294.90 1998.70C295.77 1993.84 296.63 1979.26 297.50 1972.80C298.27 1967.09 299.03 1960.18 299.80 1959.00C300.47 1957.97 301.13 1958.25 301.80 1957.20C302.20 1956.57 302.60 1955.09 303.00 1952.10C303.37 1949.36 303.73 1935.62 304.10 1921.00C304.33 1911.70 304.57 1889.78 304.80 1877.80C305.13 1860.68 305.47 1847.74 305.80 1834.60C306.03 1825.40 306.27 1817.53 306.50 1809.00M382.20 1809.00C383.33 1817.53 384.47 1826.57 385.60 1834.60C387.33 1846.88 389.07 1857.58 390.80 1869.10C392.53 1880.62 394.27 1892.18 396.00 1903.70C397.73 1915.22 399.47 1930.52 401.20 1938.20C402.93 1945.88 404.67 1950.38 406.40 1955.50C408.13 1960.62 409.87 1964.23 411.60 1969.30C413.03 1973.49 414.47 1982.00 415.90 1983.20C418.47 1985.35 421.03 1984.66 423.60 1986.60C425.33 1987.91 427.07 1993.27 428.80 1997.00C430.53 2000.73 432.27 2006.58 434.00 2009.10C435.63 2011.47 437.27 2014.30 438.90 2014.30C441.03 2014.30 443.17 2007.04 445.30 2003.90C447.00 2001.40 448.70 1998.97 450.40 1997.00C451.97 1995.18 453.53 1992.20 455.10 1992.20C456.70 1992.20 458.30 1997.25 459.90 2000.40C461.63 2003.81 463.37 2009.63 465.10 2012.50C467.40 2016.31 469.70 2019.89 472.00 2021.20C473.87 2022.26 475.73 2022.51 477.60 2023.30C480.77 2024.65 483.93 2028.10 487.10 2028.10C489.33 2028.10 491.57 2027.71 493.80 2027.10C495.87 2026.54 497.93 2018.60 500.00 2018.60C501.90 2018.60 503.80 2024.30 505.70 2024.30C506.80 2024.30 507.90 2017.33 509.00 2014.80C510.27 2011.89 511.53 2007.60 512.80 2007.60C514.37 2007.60 515.93 2014.49 517.50 2016.70C518.90 2018.68 520.30 2021.40 521.70 2021.40C522.83 2021.40 523.97 2010.18 525.10 1999.60C525.73 1993.69 526.37 1975.34 527.00 1971.10C528.10 1963.73 529.20 1957.80 530.30 1957.80C531.43 1957.80 532.57 1965.93 533.70 1971.10C534.97 1976.87 536.23 1989.42 537.50 1992.00C539.07 1995.19 540.63 1995.99 542.20 1997.70C543.47 1999.08 544.73 1999.49 546.00 2001.50C546.63 2002.51 547.27 2005.67 547.90 2007.20C548.87 2009.53 549.83 2012.90 550.80 2012.90C551.73 2012.90 552.67 2011.97 553.60 2009.10C553.93 2008.08 554.27 1988.70 554.60 1971.10C554.90 1955.26 555.20 1920.56 555.50 1895.00C555.83 1866.60 556.17 1837.73 556.50 1809.10M578.30 1809.10C578.93 1821.90 579.57 1834.77 580.20 1847.50C580.83 1860.23 581.47 1872.83 582.10 1885.50C582.73 1898.17 583.37 1913.31 584.00 1923.50C584.97 1939.05 585.93 1952.41 586.90 1961.60C587.83 1970.47 588.77 1978.72 589.70 1982.50C590.87 1987.23 592.03 1992.00 593.20 1992.00C594.27 1992.00 595.33 1976.89 596.40 1971.10C597.67 1964.22 598.93 1953.60 600.20 1953.60C601.17 1953.60 602.13 1962.22 603.10 1967.30C604.37 1973.96 605.63 1983.60 606.90 1990.10C608.47 1998.14 610.03 2006.70 611.60 2011.00C613.20 2015.39 614.80 2018.10 616.40 2020.50C617.97 2022.85 619.53 2024.24 621.10 2026.20C622.57 2028.04 624.03 2031.90 625.50 2031.90C626.57 2031.90 627.63 2010.25 628.70 1999.60C629.53 1991.28 630.37 1979.16 631.20 1974.90C631.97 1970.98 632.73 1966.90 633.50 1966.90C634.43 1966.90 635.37 1974.81 636.30 1980.60C637.27 1986.60 638.23 1998.78 639.20 2005.30C640.47 2013.85 641.73 2022.36 643.00 2026.20C644.13 2029.64 645.27 2033.40 646.40 2033.40C647.80 2033.40 649.20 2027.79 650.60 2024.30C652.50 2019.56 654.40 2012.19 656.30 2007.20C658.20 2002.21 660.10 1995.83 662.00 1993.90C664.20 1991.67 666.40 1989.70 668.60 1989.70C670.83 1989.70 673.07 1992.20 675.30 1993.90C678.47 1996.31 681.63 2000.72 684.80 2003.40C688.27 2006.33 691.73 2011.00 695.20 2011.00C696.47 2011.00 697.73 2007.04 699.00 2005.30C700.27 2003.56 701.53 2000.50 702.80 2000.50C704.40 2000.50 706.00 2008.85 707.60 2011.00C708.73 2012.52 709.87 2014.40 711.00 2014.40C712.40 2014.40 713.80 2007.05 715.20 2004.30C716.33 2002.07 717.47 1998.60 718.60 1998.60C720.00 1998.60 721.40 2008.52 722.80 2011.00C724.20 2013.48 725.60 2016.30 727.00 2016.30C728.47 2016.30 729.93 2009.99 731.40 2007.20C732.83 2004.47 734.27 1999.60 735.70 1999.60C737.10 1999.60 738.50 2007.47 739.90 2011.00C741.80 2015.79 743.70 2021.08 745.60 2024.30C747.50 2027.52 749.40 2030.26 751.30 2031.90C753.07 2033.42 754.83 2035.30 756.60 2035.30C757.70 2035.30 758.80 2025.22 759.90 2018.60C761.17 2010.98 762.43 1997.28 763.70 1990.10C764.83 1983.68 765.97 1974.50 767.10 1974.50C768.17 1974.50 769.23 1981.46 770.30 1986.30C771.57 1992.05 772.83 2002.67 774.10 2009.10C775.70 2017.22 777.30 2025.98 778.90 2030.00C780.80 2034.78 782.70 2039.90 784.60 2039.90C786.80 2039.90 789.00 2038.56 791.20 2037.60C793.50 2036.60 795.80 2033.60 798.10 2033.60C800.00 2033.60 801.90 2038.89 803.80 2040.60C805.73 2042.34 807.67 2044.70 809.60 2044.70C814.60 2044.70 819.60 2043.50 824.60 2043.50C830.33 2043.50 836.07 2049.02 841.80 2049.30C848.33 2049.62 854.87 2049.80 861.40 2049.80C868.33 2049.80 875.27 2048.27 882.20 2047.50C889.10 2046.74 896.00 2046.13 902.90 2045.20C906.73 2044.68 910.57 2043.47 914.40 2043.30C919.80 2043.06 925.20 2043.21 930.60 2042.90C932.50 2042.79 934.40 2038.93 936.30 2037.10C938.23 2035.24 940.17 2031.80 942.10 2031.80C944.00 2031.80 945.90 2038.54 947.80 2040.60C950.10 2043.10 952.40 2045.67 954.70 2046.30C958.17 2047.24 961.63 2047.90 965.10 2047.90C968.93 2047.90 972.77 2045.12 976.60 2044.00C979.83 2043.06 983.07 2041.50 986.30 2041.50C988.83 2041.50 991.37 2043.42 993.90 2044.00C996.97 2044.70 1000.03 2045.60 1003.10 2045.60C1004.63 2045.60 1006.17 2040.98 1007.70 2039.40C1009.27 2037.79 1010.83 2035.50 1012.40 2035.50C1015.07 2035.50 1017.73 2038.20 1020.40 2038.20C1021.93 2038.20 1023.47 2032.98 1025.00 2026.70C1026.17 2021.92 1027.33 2005.53 1028.50 1992.20C1029.63 1979.25 1030.77 1954.08 1031.90 1946.10C1033.07 1937.88 1034.23 1929.50 1035.40 1929.50C1036.53 1929.50 1037.67 1938.71 1038.80 1946.10C1039.97 1953.71 1041.13 1969.59 1042.30 1980.60C1043.83 1995.07 1045.37 2016.19 1046.90 2022.10C1048.83 2029.55 1050.77 2035.90 1052.70 2035.90C1056.13 2035.90 1059.57 2032.50 1063.00 2032.50C1065.70 2032.50 1068.40 2034.80 1071.10 2034.80C1074.17 2034.80 1077.23 2034.24 1080.30 2033.60C1084.30 2032.76 1088.30 2026.30 1092.30 2026.30C1096.00 2026.30 1099.70 2032.32 1103.40 2032.90C1108.00 2033.62 1112.60 2034.10 1117.20 2034.10C1121.03 2034.10 1124.87 2032.50 1128.70 2032.50C1131.77 2032.50 1134.83 2032.90 1137.90 2032.90C1141.73 2032.90 1145.57 2030.20 1149.40 2030.20C1153.27 2030.20 1157.13 2030.20 1161.00 2030.20C1164.83 2030.20 1168.67 2025.75 1172.50 2024.40C1175.00 2023.52 1177.50 2022.79 1180.00 2022.30C1185.77 2021.18 1191.53 2019.90 1197.30 2019.90C1203.07 2019.90 1208.83 2020.90 1214.60 2020.90C1218.03 2020.90 1221.47 2018.08 1224.90 2016.40C1228.03 2014.87 1231.17 2011.20 1234.30 2011.20C1237.50 2011.20 1240.70 2017.08 1243.90 2018.10C1246.80 2019.02 1249.70 2019.90 1252.60 2019.90C1257.43 2019.90 1262.27 2011.60 1267.10 2011.60C1271.47 2011.60 1275.83 2018.10 1280.20 2018.10C1287.13 2018.10 1294.07 2018.10 1301.00 2018.10C1314.00 2018.10 1327.00 2017.44 1340.00 2017.00C1353.33 2016.55 1366.67 2016.10 1380.00 2015.30C1387.67 2014.84 1395.33 2014.03 1403.00 2013.20C1410.70 2012.36 1418.40 2011.20 1426.10 2010.10C1433.77 2009.01 1441.43 2007.81 1449.10 2006.60C1456.80 2005.38 1464.50 2004.22 1472.20 2002.80C1479.87 2001.39 1487.53 1999.75 1495.20 1998.00C1502.87 1996.25 1510.53 1994.57 1518.20 1992.20C1525.90 1989.82 1533.60 1986.07 1541.30 1983.00C1548.97 1979.94 1556.63 1977.34 1564.30 1973.80C1571.57 1970.44 1578.83 1966.07 1586.10 1961.90C1593.77 1957.50 1601.43 1953.60 1609.10 1948.00C1616.80 1942.38 1624.50 1934.79 1632.20 1926.70C1637.93 1920.67 1643.67 1913.58 1649.40 1906.00C1655.17 1898.37 1660.93 1889.25 1666.70 1880.60C1672.47 1871.95 1678.23 1863.41 1684.00 1854.10C1687.83 1847.91 1691.67 1841.85 1695.50 1834.60C1699.37 1827.29 1703.23 1818.07 1707.10 1809.80M1723.40 1809.20C1725.23 1821.50 1727.07 1831.25 1728.90 1846.10C1730.07 1855.55 1731.23 1864.81 1732.40 1880.60C1733.17 1890.98 1733.93 1913.52 1734.70 1926.70C1735.47 1939.88 1736.23 1953.29 1737.00 1961.30C1737.77 1969.31 1738.53 1976.10 1739.30 1979.70C1740.37 1984.71 1741.43 1987.08 1742.50 1990.00C1745.10 1997.11 1747.70 2003.41 1750.30 2007.80C1754.00 2014.05 1757.70 2017.47 1761.40 2022.30"/>
<path d="M190.40 2252.20C208.83 2252.20 227.27 2252.20 245.70 2252.20C247.13 2252.20 248.57 2250.83 250.00 2248.70C250.87 2247.41 251.73 2240.64 252.60 2235.70C253.47 2230.76 254.33 2226.33 255.20 2218.50C255.77 2213.38 256.33 2204.62 256.90 2196.00C257.20 2191.43 257.50 2184.61 257.80 2180.40C258.07 2176.66 258.33 2171.22 258.60 2170.90C259.07 2170.35 259.53 2170.75 260.00 2170.10C260.13 2169.91 260.27 2145.54 260.40 2135.50C260.67 2115.43 260.93 2099.99 261.20 2083.70C261.50 2065.38 261.80 2048.78 262.10 2031.80C262.37 2016.70 262.63 2002.13 262.90 1987.30M265.50 1987.30C265.80 2007.90 266.10 2037.42 266.40 2049.10C266.97 2071.16 267.53 2079.88 268.10 2092.30C268.70 2105.45 269.30 2116.71 269.90 2126.90C270.47 2136.52 271.03 2146.74 271.60 2152.80C272.47 2162.07 273.33 2168.39 274.20 2173.50C275.33 2180.18 276.47 2188.40 277.60 2189.10C278.47 2189.64 279.33 2190.00 280.20 2190.00C280.80 2190.00 281.40 2188.20 282.00 2188.20C282.57 2188.20 283.13 2190.27 283.70 2190.80C284.57 2191.62 285.43 2191.51 286.30 2192.50C287.17 2193.49 288.03 2203.17 288.90 2204.60C289.77 2206.03 290.63 2207.20 291.50 2207.20C292.33 2207.20 293.17 2202.40 294.00 2199.50C294.87 2196.49 295.73 2191.85 296.60 2189.10C297.37 2186.66 298.13 2183.00 298.90 2183.00C299.60 2183.00 300.30 2183.00 301.00 2183.00C301.43 2183.00 301.87 2175.84 302.30 2170.10C302.73 2164.36 303.17 2158.53 303.60 2144.20C303.87 2135.38 304.13 2107.26 304.40 2083.70C304.70 2057.19 305.00 2019.43 305.30 1987.30M373.20 1987.30C374.17 1996.40 375.13 2006.56 376.10 2014.60C377.27 2024.30 378.43 2031.74 379.60 2040.50C380.73 2049.01 381.87 2058.83 383.00 2066.40C384.47 2076.19 385.93 2083.57 387.40 2092.30C388.83 2100.83 390.27 2110.17 391.70 2118.20C393.13 2126.23 394.57 2135.00 396.00 2140.70C397.43 2146.40 398.87 2150.94 400.30 2154.50C401.73 2158.06 403.17 2160.10 404.60 2163.20C406.33 2166.94 408.07 2172.63 409.80 2175.30C411.53 2177.97 413.27 2181.30 415.00 2181.30C416.17 2181.30 417.33 2176.31 418.50 2170.10C419.37 2165.49 420.23 2145.59 421.10 2135.50C421.93 2125.80 422.77 2114.94 423.60 2109.60C424.20 2105.75 424.80 2101.00 425.40 2101.00C426.27 2101.00 427.13 2109.56 428.00 2114.80C429.13 2121.65 430.27 2135.14 431.40 2139.00C432.57 2142.97 433.73 2146.80 434.90 2146.80C436.33 2146.80 437.77 2140.97 439.20 2137.20C440.63 2133.43 442.07 2127.99 443.50 2123.40C444.67 2119.66 445.83 2112.20 447.00 2112.20C448.13 2112.20 449.27 2114.27 450.40 2116.50C451.57 2118.79 452.73 2126.57 453.90 2132.10C455.03 2137.47 456.17 2143.75 457.30 2149.30C458.77 2156.48 460.23 2164.70 461.70 2170.10C463.43 2176.48 465.17 2181.40 466.90 2185.60C468.60 2189.71 470.30 2193.44 472.00 2196.00C473.23 2197.85 474.47 2199.37 475.70 2200.50C477.93 2202.54 480.17 2205.20 482.40 2205.20C483.97 2205.20 485.53 2204.81 487.10 2204.30C488.07 2203.99 489.03 2202.00 490.00 2202.00C491.57 2202.00 493.13 2205.20 494.70 2205.20C496.60 2205.20 498.50 2199.50 500.40 2199.50C502.00 2199.50 503.60 2202.70 505.20 2204.30C506.77 2205.87 508.33 2209.00 509.90 2209.00C510.87 2209.00 511.83 2203.14 512.80 2198.60C513.73 2194.21 514.67 2183.85 515.60 2179.60C516.57 2175.20 517.53 2169.70 518.50 2169.70C519.43 2169.70 520.37 2173.55 521.30 2175.80C522.90 2179.66 524.50 2186.75 526.10 2189.10C527.67 2191.40 529.23 2192.23 530.80 2193.80C532.40 2195.40 534.00 2197.09 535.60 2198.60C536.87 2199.79 538.13 2202.00 539.40 2202.00C540.03 2202.00 540.67 2199.44 541.30 2194.80C541.60 2192.60 541.90 2179.63 542.20 2170.10C542.53 2159.51 542.87 2145.46 543.20 2132.10C543.50 2120.07 543.80 2107.42 544.10 2094.00C544.43 2079.09 544.77 2059.12 545.10 2046.50C545.40 2035.14 545.70 2027.31 546.00 2018.00C546.33 2007.66 546.67 1997.73 547.00 1987.60M563.10 1987.60C563.43 1997.73 563.77 2011.06 564.10 2018.00C564.73 2031.19 565.37 2037.00 566.00 2046.50C566.63 2056.00 567.27 2065.50 567.90 2075.00C568.53 2084.50 569.17 2094.66 569.80 2103.50C570.43 2112.34 571.07 2121.13 571.70 2128.30C572.33 2135.47 572.97 2141.58 573.60 2147.30C574.53 2155.73 575.47 2165.01 576.40 2170.10C577.67 2177.01 578.93 2182.54 580.20 2185.30C581.47 2188.06 582.73 2191.00 584.00 2191.00C584.97 2191.00 585.93 2185.10 586.90 2179.60C587.83 2174.29 588.77 2159.20 589.70 2151.10C590.53 2143.87 591.37 2132.10 592.20 2132.10C592.97 2132.10 593.73 2137.39 594.50 2141.60C595.47 2146.91 596.43 2159.44 597.40 2166.30C598.67 2175.29 599.93 2182.94 601.20 2189.10C602.77 2196.72 604.33 2205.23 605.90 2208.10C607.80 2211.58 609.70 2212.92 611.60 2214.70C613.83 2216.79 616.07 2219.90 618.30 2219.90C619.57 2219.90 620.83 2209.48 622.10 2204.30C623.03 2200.49 623.97 2195.35 624.90 2192.90C625.53 2191.24 626.17 2189.10 626.80 2189.10C628.07 2189.10 629.33 2197.13 630.60 2200.50C632.20 2204.76 633.80 2211.05 635.40 2211.90C636.33 2212.40 637.27 2212.80 638.20 2212.80C639.47 2212.80 640.73 2207.60 642.00 2204.30C643.60 2200.13 645.20 2193.49 646.80 2189.10C648.37 2184.80 649.93 2179.84 651.50 2177.70C653.40 2175.11 655.30 2172.40 657.20 2172.40C660.07 2172.40 662.93 2173.09 665.80 2173.90C668.97 2174.80 672.13 2179.05 675.30 2181.50C677.83 2183.46 680.37 2185.42 682.90 2187.20C684.80 2188.54 686.70 2191.00 688.60 2191.00C689.87 2191.00 691.13 2183.98 692.40 2181.50C693.67 2179.02 694.93 2175.40 696.20 2175.40C697.47 2175.40 698.73 2183.33 700.00 2185.30C701.13 2187.06 702.27 2189.10 703.40 2189.10C704.47 2189.10 705.53 2181.75 706.60 2180.50C707.87 2179.01 709.13 2177.70 710.40 2177.70C711.70 2177.70 713.00 2182.73 714.30 2185.30C715.57 2187.80 716.83 2192.90 718.10 2192.90C719.37 2192.90 720.63 2183.83 721.90 2181.50C723.47 2178.62 725.03 2175.40 726.60 2175.40C727.87 2175.40 729.13 2178.74 730.40 2181.50C732.00 2184.99 733.60 2194.48 735.20 2198.60C736.77 2202.64 738.33 2206.24 739.90 2208.10C741.80 2210.36 743.70 2211.60 745.60 2212.80C747.50 2214.00 749.40 2215.70 751.30 2215.70C752.57 2215.70 753.83 2212.10 755.10 2208.10C756.37 2204.10 757.63 2187.92 758.90 2179.60C759.87 2173.25 760.83 2165.89 761.80 2162.50C762.60 2159.69 763.40 2156.40 764.20 2156.40C765.30 2156.40 766.40 2163.46 767.50 2168.20C768.77 2173.66 770.03 2183.17 771.30 2189.10C772.87 2196.44 774.43 2204.35 776.00 2208.10C777.90 2212.65 779.80 2216.16 781.70 2217.60C783.60 2219.04 785.50 2220.40 787.40 2220.40C789.30 2220.40 791.20 2217.21 793.10 2215.70C794.53 2214.56 795.97 2212.40 797.40 2212.40C799.17 2212.40 800.93 2216.77 802.70 2218.60C804.60 2220.57 806.50 2223.90 808.40 2223.90C814.93 2223.90 821.47 2223.60 828.00 2223.60C833.00 2223.60 838.00 2229.40 843.00 2229.40C849.13 2229.40 855.27 2229.18 861.40 2228.90C868.33 2228.58 875.27 2226.44 882.20 2225.50C887.57 2224.77 892.93 2223.60 898.30 2223.60C901.00 2223.60 903.70 2225.50 906.40 2225.50C909.07 2225.50 911.73 2223.54 914.40 2223.20C919.80 2222.52 925.20 2222.87 930.60 2222.00C932.90 2221.63 935.20 2214.12 937.50 2210.50C939.03 2208.09 940.57 2203.60 942.10 2203.60C944.00 2203.60 945.90 2212.29 947.80 2215.10C950.50 2219.09 953.20 2223.34 955.90 2224.30C958.97 2225.39 962.03 2226.20 965.10 2226.20C968.17 2226.20 971.23 2222.91 974.30 2222.00C977.00 2221.20 979.70 2221.22 982.40 2220.20C984.70 2219.33 987.00 2212.40 989.30 2212.40C992.00 2212.40 994.70 2216.30 997.40 2216.30C1001.60 2216.30 1005.80 2212.40 1010.00 2212.40C1013.10 2212.40 1016.20 2214.00 1019.30 2214.00C1020.43 2214.00 1021.57 2205.29 1022.70 2196.70C1024.23 2185.07 1025.77 2142.95 1027.30 2120.60C1028.47 2103.60 1029.63 2078.90 1030.80 2074.60C1031.40 2072.39 1032.00 2070.40 1032.60 2070.40C1033.53 2070.40 1034.47 2078.36 1035.40 2086.10C1036.53 2095.50 1037.67 2129.42 1038.80 2143.70C1040.37 2163.45 1041.93 2182.04 1043.50 2189.80C1045.80 2201.20 1048.10 2211.70 1050.40 2211.70C1054.07 2211.70 1057.73 2206.40 1061.40 2206.40C1065.03 2206.40 1068.67 2210.00 1072.30 2210.00C1074.97 2210.00 1077.63 2206.30 1080.30 2204.70C1083.53 2202.76 1086.77 2199.40 1090.00 2199.40C1093.70 2199.40 1097.40 2205.42 1101.10 2205.90C1106.47 2206.59 1111.83 2207.00 1117.20 2207.00C1121.80 2207.00 1126.40 2207.00 1131.00 2207.00C1135.60 2207.00 1140.20 2204.98 1144.80 2204.70C1150.20 2204.37 1155.60 2204.51 1161.00 2204.10C1164.07 2203.87 1167.13 2197.80 1170.20 2197.80C1173.47 2197.80 1176.73 2197.80 1180.00 2197.80C1185.77 2197.80 1191.53 2195.00 1197.30 2195.00C1204.20 2195.00 1211.10 2197.80 1218.00 2197.80C1223.43 2197.80 1228.87 2189.90 1234.30 2189.90C1239.83 2189.90 1245.37 2197.80 1250.90 2197.80C1256.30 2197.80 1261.70 2189.90 1267.10 2189.90C1271.47 2189.90 1275.83 2195.00 1280.20 2195.00C1287.13 2195.00 1294.07 2195.00 1301.00 2195.00C1312.50 2195.00 1324.00 2194.05 1335.50 2193.30C1347.03 2192.54 1358.57 2191.05 1370.10 2189.90C1381.63 2188.75 1393.17 2187.80 1404.70 2186.40C1416.20 2185.01 1427.70 2182.93 1439.20 2181.20C1450.73 2179.46 1462.27 2177.51 1473.80 2176.00C1485.33 2174.49 1496.87 2173.69 1508.40 2172.00C1518.93 2170.45 1529.47 2168.48 1540.00 2165.70C1547.67 2163.67 1555.33 2160.23 1563.00 2157.10C1570.70 2153.95 1578.40 2150.35 1586.10 2146.70C1593.77 2143.07 1601.43 2139.92 1609.10 2135.20C1616.80 2130.46 1624.50 2123.23 1632.20 2116.70C1639.87 2110.20 1647.53 2103.73 1655.20 2096.00C1660.97 2090.18 1666.73 2083.91 1672.50 2076.40C1678.27 2068.89 1684.03 2058.94 1689.80 2049.90C1693.63 2043.89 1697.47 2038.01 1701.30 2031.50C1705.13 2024.99 1708.97 2016.38 1712.80 2010.70C1714.73 2007.84 1716.67 2003.20 1718.60 2003.20C1719.73 2003.20 1720.87 2005.11 1722.00 2007.30C1723.17 2009.56 1724.33 2016.13 1725.50 2024.60C1726.63 2032.82 1727.77 2054.00 1728.90 2070.60C1729.87 2084.76 1730.83 2104.04 1731.80 2116.70C1732.77 2129.36 1733.73 2143.61 1734.70 2149.00C1736.47 2158.86 1738.23 2162.34 1740.00 2167.40C1743.43 2177.22 1746.87 2187.18 1750.30 2191.60C1754.70 2197.27 1759.10 2199.20 1763.50 2203.00"/>
</g>
</svg></body></html>
